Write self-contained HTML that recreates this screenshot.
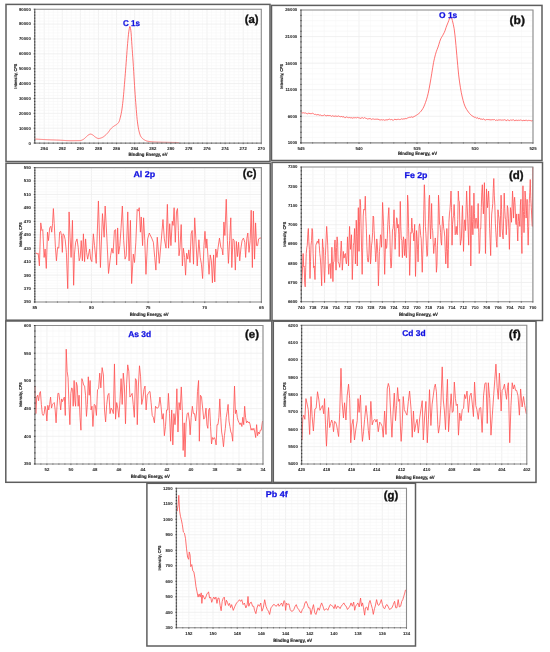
<!DOCTYPE html>
<html><head><meta charset="utf-8"><style>
html,body{margin:0;padding:0;background:#fff;}
body{width:550px;height:652px;overflow:hidden;}
svg{display:block;font-family:"Liberation Sans", sans-serif;will-change:transform;-webkit-font-smoothing:antialiased;text-rendering:geometricPrecision;filter:blur(0.3px);}
</style></head><body>
<svg width="550" height="652" viewBox="0 0 550 652">
<rect width="550" height="652" fill="#fff"/>
<line x1="35.15" y1="9.2" x2="35.15" y2="143.1" stroke="#f6f6f6" stroke-width="0.6"/>
<line x1="39.68" y1="9.2" x2="39.68" y2="143.1" stroke="#f6f6f6" stroke-width="0.6"/>
<line x1="44.2" y1="9.2" x2="44.2" y2="143.1" stroke="#eeeeee" stroke-width="0.8"/>
<line x1="48.72" y1="9.2" x2="48.72" y2="143.1" stroke="#f6f6f6" stroke-width="0.6"/>
<line x1="53.24" y1="9.2" x2="53.24" y2="143.1" stroke="#f6f6f6" stroke-width="0.6"/>
<line x1="57.77" y1="9.2" x2="57.77" y2="143.1" stroke="#f6f6f6" stroke-width="0.6"/>
<line x1="62.29" y1="9.2" x2="62.29" y2="143.1" stroke="#eeeeee" stroke-width="0.8"/>
<line x1="66.81" y1="9.2" x2="66.81" y2="143.1" stroke="#f6f6f6" stroke-width="0.6"/>
<line x1="71.34" y1="9.2" x2="71.34" y2="143.1" stroke="#f6f6f6" stroke-width="0.6"/>
<line x1="75.86" y1="9.2" x2="75.86" y2="143.1" stroke="#f6f6f6" stroke-width="0.6"/>
<line x1="80.38" y1="9.2" x2="80.38" y2="143.1" stroke="#eeeeee" stroke-width="0.8"/>
<line x1="84.9" y1="9.2" x2="84.9" y2="143.1" stroke="#f6f6f6" stroke-width="0.6"/>
<line x1="89.43" y1="9.2" x2="89.43" y2="143.1" stroke="#f6f6f6" stroke-width="0.6"/>
<line x1="93.95" y1="9.2" x2="93.95" y2="143.1" stroke="#f6f6f6" stroke-width="0.6"/>
<line x1="98.47" y1="9.2" x2="98.47" y2="143.1" stroke="#eeeeee" stroke-width="0.8"/>
<line x1="103" y1="9.2" x2="103" y2="143.1" stroke="#f6f6f6" stroke-width="0.6"/>
<line x1="107.52" y1="9.2" x2="107.52" y2="143.1" stroke="#f6f6f6" stroke-width="0.6"/>
<line x1="112.04" y1="9.2" x2="112.04" y2="143.1" stroke="#f6f6f6" stroke-width="0.6"/>
<line x1="116.57" y1="9.2" x2="116.57" y2="143.1" stroke="#eeeeee" stroke-width="0.8"/>
<line x1="121.09" y1="9.2" x2="121.09" y2="143.1" stroke="#f6f6f6" stroke-width="0.6"/>
<line x1="125.61" y1="9.2" x2="125.61" y2="143.1" stroke="#f6f6f6" stroke-width="0.6"/>
<line x1="130.13" y1="9.2" x2="130.13" y2="143.1" stroke="#f6f6f6" stroke-width="0.6"/>
<line x1="134.66" y1="9.2" x2="134.66" y2="143.1" stroke="#eeeeee" stroke-width="0.8"/>
<line x1="139.18" y1="9.2" x2="139.18" y2="143.1" stroke="#f6f6f6" stroke-width="0.6"/>
<line x1="143.7" y1="9.2" x2="143.7" y2="143.1" stroke="#f6f6f6" stroke-width="0.6"/>
<line x1="148.23" y1="9.2" x2="148.23" y2="143.1" stroke="#f6f6f6" stroke-width="0.6"/>
<line x1="152.75" y1="9.2" x2="152.75" y2="143.1" stroke="#eeeeee" stroke-width="0.8"/>
<line x1="157.27" y1="9.2" x2="157.27" y2="143.1" stroke="#f6f6f6" stroke-width="0.6"/>
<line x1="161.8" y1="9.2" x2="161.8" y2="143.1" stroke="#f6f6f6" stroke-width="0.6"/>
<line x1="166.32" y1="9.2" x2="166.32" y2="143.1" stroke="#f6f6f6" stroke-width="0.6"/>
<line x1="170.84" y1="9.2" x2="170.84" y2="143.1" stroke="#eeeeee" stroke-width="0.8"/>
<line x1="175.36" y1="9.2" x2="175.36" y2="143.1" stroke="#f6f6f6" stroke-width="0.6"/>
<line x1="179.89" y1="9.2" x2="179.89" y2="143.1" stroke="#f6f6f6" stroke-width="0.6"/>
<line x1="184.41" y1="9.2" x2="184.41" y2="143.1" stroke="#f6f6f6" stroke-width="0.6"/>
<line x1="188.93" y1="9.2" x2="188.93" y2="143.1" stroke="#eeeeee" stroke-width="0.8"/>
<line x1="193.46" y1="9.2" x2="193.46" y2="143.1" stroke="#f6f6f6" stroke-width="0.6"/>
<line x1="197.98" y1="9.2" x2="197.98" y2="143.1" stroke="#f6f6f6" stroke-width="0.6"/>
<line x1="202.5" y1="9.2" x2="202.5" y2="143.1" stroke="#f6f6f6" stroke-width="0.6"/>
<line x1="207.02" y1="9.2" x2="207.02" y2="143.1" stroke="#eeeeee" stroke-width="0.8"/>
<line x1="211.55" y1="9.2" x2="211.55" y2="143.1" stroke="#f6f6f6" stroke-width="0.6"/>
<line x1="216.07" y1="9.2" x2="216.07" y2="143.1" stroke="#f6f6f6" stroke-width="0.6"/>
<line x1="220.59" y1="9.2" x2="220.59" y2="143.1" stroke="#f6f6f6" stroke-width="0.6"/>
<line x1="225.12" y1="9.2" x2="225.12" y2="143.1" stroke="#eeeeee" stroke-width="0.8"/>
<line x1="229.64" y1="9.2" x2="229.64" y2="143.1" stroke="#f6f6f6" stroke-width="0.6"/>
<line x1="234.16" y1="9.2" x2="234.16" y2="143.1" stroke="#f6f6f6" stroke-width="0.6"/>
<line x1="238.69" y1="9.2" x2="238.69" y2="143.1" stroke="#f6f6f6" stroke-width="0.6"/>
<line x1="243.21" y1="9.2" x2="243.21" y2="143.1" stroke="#eeeeee" stroke-width="0.8"/>
<line x1="247.73" y1="9.2" x2="247.73" y2="143.1" stroke="#f6f6f6" stroke-width="0.6"/>
<line x1="252.25" y1="9.2" x2="252.25" y2="143.1" stroke="#f6f6f6" stroke-width="0.6"/>
<line x1="256.78" y1="9.2" x2="256.78" y2="143.1" stroke="#f6f6f6" stroke-width="0.6"/>
<line x1="261.3" y1="9.2" x2="261.3" y2="143.1" stroke="#eeeeee" stroke-width="0.8"/>
<line x1="34.7" y1="143.1" x2="261.3" y2="143.1" stroke="#eeeeee" stroke-width="0.8"/>
<line x1="34.7" y1="140.12" x2="261.3" y2="140.12" stroke="#f6f6f6" stroke-width="0.6"/>
<line x1="34.7" y1="137.15" x2="261.3" y2="137.15" stroke="#f6f6f6" stroke-width="0.6"/>
<line x1="34.7" y1="134.17" x2="261.3" y2="134.17" stroke="#f6f6f6" stroke-width="0.6"/>
<line x1="34.7" y1="131.2" x2="261.3" y2="131.2" stroke="#f6f6f6" stroke-width="0.6"/>
<line x1="34.7" y1="128.22" x2="261.3" y2="128.22" stroke="#eeeeee" stroke-width="0.8"/>
<line x1="34.7" y1="125.25" x2="261.3" y2="125.25" stroke="#f6f6f6" stroke-width="0.6"/>
<line x1="34.7" y1="122.27" x2="261.3" y2="122.27" stroke="#f6f6f6" stroke-width="0.6"/>
<line x1="34.7" y1="119.3" x2="261.3" y2="119.3" stroke="#f6f6f6" stroke-width="0.6"/>
<line x1="34.7" y1="116.32" x2="261.3" y2="116.32" stroke="#f6f6f6" stroke-width="0.6"/>
<line x1="34.7" y1="113.34" x2="261.3" y2="113.34" stroke="#eeeeee" stroke-width="0.8"/>
<line x1="34.7" y1="110.37" x2="261.3" y2="110.37" stroke="#f6f6f6" stroke-width="0.6"/>
<line x1="34.7" y1="107.39" x2="261.3" y2="107.39" stroke="#f6f6f6" stroke-width="0.6"/>
<line x1="34.7" y1="104.42" x2="261.3" y2="104.42" stroke="#f6f6f6" stroke-width="0.6"/>
<line x1="34.7" y1="101.44" x2="261.3" y2="101.44" stroke="#f6f6f6" stroke-width="0.6"/>
<line x1="34.7" y1="98.47" x2="261.3" y2="98.47" stroke="#eeeeee" stroke-width="0.8"/>
<line x1="34.7" y1="95.49" x2="261.3" y2="95.49" stroke="#f6f6f6" stroke-width="0.6"/>
<line x1="34.7" y1="92.52" x2="261.3" y2="92.52" stroke="#f6f6f6" stroke-width="0.6"/>
<line x1="34.7" y1="89.54" x2="261.3" y2="89.54" stroke="#f6f6f6" stroke-width="0.6"/>
<line x1="34.7" y1="86.56" x2="261.3" y2="86.56" stroke="#f6f6f6" stroke-width="0.6"/>
<line x1="34.7" y1="83.59" x2="261.3" y2="83.59" stroke="#eeeeee" stroke-width="0.8"/>
<line x1="34.7" y1="80.61" x2="261.3" y2="80.61" stroke="#f6f6f6" stroke-width="0.6"/>
<line x1="34.7" y1="77.64" x2="261.3" y2="77.64" stroke="#f6f6f6" stroke-width="0.6"/>
<line x1="34.7" y1="74.66" x2="261.3" y2="74.66" stroke="#f6f6f6" stroke-width="0.6"/>
<line x1="34.7" y1="71.69" x2="261.3" y2="71.69" stroke="#f6f6f6" stroke-width="0.6"/>
<line x1="34.7" y1="68.71" x2="261.3" y2="68.71" stroke="#eeeeee" stroke-width="0.8"/>
<line x1="34.7" y1="65.74" x2="261.3" y2="65.74" stroke="#f6f6f6" stroke-width="0.6"/>
<line x1="34.7" y1="62.76" x2="261.3" y2="62.76" stroke="#f6f6f6" stroke-width="0.6"/>
<line x1="34.7" y1="59.78" x2="261.3" y2="59.78" stroke="#f6f6f6" stroke-width="0.6"/>
<line x1="34.7" y1="56.81" x2="261.3" y2="56.81" stroke="#f6f6f6" stroke-width="0.6"/>
<line x1="34.7" y1="53.83" x2="261.3" y2="53.83" stroke="#eeeeee" stroke-width="0.8"/>
<line x1="34.7" y1="50.86" x2="261.3" y2="50.86" stroke="#f6f6f6" stroke-width="0.6"/>
<line x1="34.7" y1="47.88" x2="261.3" y2="47.88" stroke="#f6f6f6" stroke-width="0.6"/>
<line x1="34.7" y1="44.91" x2="261.3" y2="44.91" stroke="#f6f6f6" stroke-width="0.6"/>
<line x1="34.7" y1="41.93" x2="261.3" y2="41.93" stroke="#f6f6f6" stroke-width="0.6"/>
<line x1="34.7" y1="38.96" x2="261.3" y2="38.96" stroke="#eeeeee" stroke-width="0.8"/>
<line x1="34.7" y1="35.98" x2="261.3" y2="35.98" stroke="#f6f6f6" stroke-width="0.6"/>
<line x1="34.7" y1="33" x2="261.3" y2="33" stroke="#f6f6f6" stroke-width="0.6"/>
<line x1="34.7" y1="30.03" x2="261.3" y2="30.03" stroke="#f6f6f6" stroke-width="0.6"/>
<line x1="34.7" y1="27.05" x2="261.3" y2="27.05" stroke="#f6f6f6" stroke-width="0.6"/>
<line x1="34.7" y1="24.08" x2="261.3" y2="24.08" stroke="#eeeeee" stroke-width="0.8"/>
<line x1="34.7" y1="21.1" x2="261.3" y2="21.1" stroke="#f6f6f6" stroke-width="0.6"/>
<line x1="34.7" y1="18.13" x2="261.3" y2="18.13" stroke="#f6f6f6" stroke-width="0.6"/>
<line x1="34.7" y1="15.15" x2="261.3" y2="15.15" stroke="#f6f6f6" stroke-width="0.6"/>
<line x1="34.7" y1="12.18" x2="261.3" y2="12.18" stroke="#f6f6f6" stroke-width="0.6"/>
<line x1="34.7" y1="9.2" x2="261.3" y2="9.2" stroke="#eeeeee" stroke-width="0.8"/>
<path d="M34.5,139 L34.79,139.02 L35.08,139.04 L35.37,139.06 L35.66,139.07 L35.95,139.09 L36.24,139.11 L36.52,139.13 L36.81,139.15 L37.1,139.16 L37.39,139.18 L37.68,139.2 L37.97,139.22 L38.26,139.23 L38.55,139.25 L38.84,139.27 L39.13,139.29 L39.42,139.3 L39.71,139.32 L39.99,139.34 L40.28,139.35 L40.57,139.37 L40.86,139.39 L41.15,139.4 L41.44,139.42 L41.73,139.43 L42.02,139.45 L42.31,139.46 L42.6,139.48 L42.89,139.49 L43.18,139.51 L43.46,139.52 L43.75,139.54 L44.04,139.55 L44.33,139.57 L44.62,139.58 L44.91,139.6 L45.2,139.61 L45.49,139.62 L45.78,139.64 L46.07,139.65 L46.36,139.66 L46.65,139.67 L46.93,139.69 L47.22,139.7 L47.51,139.71 L47.8,139.72 L48.09,139.74 L48.38,139.75 L48.67,139.76 L48.96,139.77 L49.25,139.78 L49.54,139.79 L49.83,139.8 L50.12,139.82 L50.4,139.83 L50.69,139.84 L50.98,139.85 L51.27,139.86 L51.56,139.87 L51.85,139.88 L52.14,139.89 L52.43,139.9 L52.72,139.91 L53.01,139.92 L53.3,139.93 L53.59,139.95 L53.87,139.96 L54.16,139.97 L54.45,139.98 L54.74,139.99 L55.03,140 L55.32,140.01 L55.61,140.02 L55.9,140.03 L56.19,140.04 L56.48,140.05 L56.77,140.07 L57.06,140.08 L57.35,140.09 L57.63,140.1 L57.92,140.11 L58.21,140.12 L58.5,140.14 L58.79,140.15 L59.08,140.16 L59.37,140.17 L59.66,140.18 L59.95,140.2 L60.24,140.21 L60.53,140.23 L60.82,140.24 L61.1,140.26 L61.39,140.27 L61.68,140.29 L61.97,140.31 L62.26,140.33 L62.55,140.34 L62.84,140.36 L63.13,140.38 L63.42,140.4 L63.71,140.42 L64,140.44 L64.29,140.46 L64.57,140.48 L64.86,140.5 L65.15,140.52 L65.44,140.53 L65.73,140.55 L66.02,140.57 L66.31,140.58 L66.6,140.6 L66.89,140.61 L67.18,140.63 L67.47,140.64 L67.76,140.65 L68.04,140.66 L68.33,140.67 L68.62,140.68 L68.91,140.69 L69.2,140.69 L69.49,140.7 L69.78,140.7 L70.07,140.7 L70.36,140.7 L70.65,140.7 L70.94,140.7 L71.23,140.7 L71.51,140.7 L71.8,140.7 L72.09,140.7 L72.38,140.7 L72.67,140.69 L72.96,140.69 L73.25,140.69 L73.54,140.69 L73.83,140.69 L74.12,140.69 L74.41,140.68 L74.7,140.68 L74.98,140.68 L75.27,140.68 L75.56,140.67 L75.85,140.67 L76.14,140.67 L76.43,140.66 L76.72,140.66 L77.01,140.66 L77.3,140.65 L77.59,140.65 L77.88,140.64 L78.17,140.64 L78.46,140.63 L78.74,140.63 L79.03,140.62 L79.32,140.62 L79.61,140.61 L79.9,140.6 L80.19,140.59 L80.48,140.55 L80.77,140.5 L81.06,140.42 L81.35,140.33 L81.64,140.22 L81.93,140.1 L82.21,139.97 L82.5,139.84 L82.79,139.7 L83.08,139.56 L83.37,139.39 L83.66,139.2 L83.95,138.97 L84.24,138.73 L84.53,138.47 L84.82,138.2 L85.11,137.92 L85.4,137.65 L85.68,137.38 L85.97,137.12 L86.26,136.87 L86.55,136.59 L86.84,136.3 L87.13,136.02 L87.42,135.74 L87.71,135.48 L88,135.24 L88.29,135.03 L88.58,134.86 L88.87,134.7 L89.15,134.54 L89.44,134.39 L89.73,134.26 L90.02,134.17 L90.31,134.11 L90.6,134.1 L90.89,134.14 L91.18,134.21 L91.47,134.32 L91.76,134.44 L92.05,134.58 L92.34,134.72 L92.62,134.86 L92.91,135.04 L93.2,135.26 L93.49,135.5 L93.78,135.76 L94.07,136.03 L94.36,136.3 L94.65,136.57 L94.94,136.81 L95.23,137.03 L95.52,137.21 L95.81,137.38 L96.09,137.55 L96.38,137.72 L96.67,137.89 L96.96,138.04 L97.25,138.18 L97.54,138.3 L97.83,138.4 L98.12,138.47 L98.41,138.5 L98.7,138.5 L98.99,138.47 L99.28,138.44 L99.57,138.39 L99.85,138.32 L100.14,138.24 L100.43,138.16 L100.72,138.07 L101.01,137.97 L101.3,137.86 L101.59,137.75 L101.88,137.65 L102.17,137.53 L102.46,137.4 L102.75,137.24 L103.04,137.07 L103.32,136.88 L103.61,136.68 L103.9,136.46 L104.19,136.24 L104.48,136.01 L104.77,135.78 L105.06,135.55 L105.35,135.31 L105.64,135.06 L105.93,134.79 L106.22,134.51 L106.51,134.22 L106.79,133.92 L107.08,133.62 L107.37,133.3 L107.66,132.98 L107.95,132.66 L108.24,132.31 L108.53,131.94 L108.82,131.54 L109.11,131.13 L109.4,130.71 L109.69,130.29 L109.98,129.87 L110.26,129.48 L110.55,129.11 L110.84,128.77 L111.13,128.47 L111.42,128.18 L111.71,127.91 L112,127.66 L112.29,127.41 L112.58,127.17 L112.87,126.94 L113.16,126.72 L113.45,126.5 L113.73,126.29 L114.02,126.08 L114.31,125.89 L114.6,125.71 L114.89,125.54 L115.18,125.37 L115.47,125.21 L115.76,125.05 L116.05,124.88 L116.34,124.7 L116.63,124.49 L116.92,124.27 L117.21,124.02 L117.49,123.76 L117.78,123.48 L118.07,123.16 L118.36,122.8 L118.65,122.38 L118.94,121.91 L119.23,121.29 L119.52,120.43 L119.81,119.4 L120.1,118.29 L120.39,117.17 L120.68,116 L120.96,114.74 L121.25,113.36 L121.54,111.83 L121.83,110.07 L122.12,108.06 L122.41,105.82 L122.7,103.39 L122.99,100.8 L123.28,97.95 L123.57,94.77 L123.86,91.36 L124.15,87.86 L124.43,84.39 L124.72,80.92 L125.01,77.38 L125.3,73.78 L125.59,70.13 L125.88,66.44 L126.17,62.67 L126.46,58.69 L126.75,54.65 L127.04,50.68 L127.33,46.96 L127.62,43.58 L127.9,40.28 L128.19,37.11 L128.48,34.24 L128.77,31.86 L129.06,29.98 L129.35,28.2 L129.64,26.86 L129.93,26.41 L130.22,27.02 L130.51,28.43 L130.8,30.29 L131.09,32.71 L131.37,36.66 L131.66,41.3 L131.95,45.65 L132.24,49.68 L132.53,53.71 L132.82,57.8 L133.11,62.02 L133.4,66.45 L133.69,71.23 L133.98,76.19 L134.27,81.07 L134.56,85.65 L134.84,90.02 L135.13,94.27 L135.42,98.36 L135.71,102.28 L136,105.99 L136.29,109.68 L136.58,113.25 L136.87,116.57 L137.16,119.47 L137.45,121.88 L137.74,124.05 L138.03,126.04 L138.32,127.81 L138.6,129.37 L138.89,130.67 L139.18,131.81 L139.47,132.87 L139.76,133.85 L140.05,134.72 L140.34,135.48 L140.63,136.12 L140.92,136.63 L141.21,137.05 L141.5,137.44 L141.79,137.8 L142.07,138.12 L142.36,138.42 L142.65,138.68 L142.94,138.93 L143.23,139.15 L143.52,139.36 L143.81,139.54 L144.1,139.72 L144.39,139.89 L144.68,140.05 L144.97,140.21 L145.26,140.36 L145.54,140.5 L145.83,140.64 L146.12,140.77 L146.41,140.88 L146.7,140.99 L146.99,141.08 L147.28,141.16 L147.57,141.23 L147.86,141.29 L148.15,141.34 L148.44,141.39 L148.73,141.43 L149.01,141.47 L149.3,141.51 L149.59,141.55 L149.88,141.59 L150.17,141.62 L150.46,141.66 L150.75,141.69 L151.04,141.72 L151.33,141.75 L151.62,141.77 L151.91,141.8 L152.2,141.82 L152.48,141.85 L152.77,141.87 L153.06,141.89 L153.35,141.91 L153.64,141.93 L153.93,141.94 L154.22,141.96 L154.51,141.98 L154.8,141.99 L155.09,142 L155.38,142.02 L155.67,142.03 L155.95,142.04 L156.24,142.06 L156.53,142.07 L156.82,142.08 L157.11,142.09 L157.4,142.1 L157.69,142.11 L157.98,142.12 L158.27,142.13 L158.56,142.14 L158.85,142.15 L159.14,142.16 L159.43,142.17 L159.71,142.18 L160,142.18 L160.29,142.19 L160.58,142.2 L160.87,142.21 L161.16,142.22 L161.45,142.22 L161.74,142.23 L162.03,142.24 L162.32,142.24 L162.61,142.25 L162.9,142.26 L163.18,142.26 L163.47,142.27 L163.76,142.27 L164.05,142.28 L164.34,142.29 L164.63,142.29 L164.92,142.3 L165.21,142.3 L165.5,142.31 L165.79,142.32 L166.08,142.32 L166.37,142.33 L166.65,142.33 L166.94,142.34 L167.23,142.34 L167.52,142.35 L167.81,142.35 L168.1,142.36 L168.39,142.37 L168.68,142.37 L168.97,142.38 L169.26,142.38 L169.55,142.39 L169.84,142.39 L170.12,142.4 L170.41,142.4 L170.7,142.41 L170.99,142.41 L171.28,142.42 L171.57,142.42 L171.86,142.42 L172.15,142.43 L172.44,142.43 L172.73,142.44 L173.02,142.44 L173.31,142.45 L173.59,142.45 L173.88,142.45 L174.17,142.46 L174.46,142.46 L174.75,142.46 L175.04,142.47 L175.33,142.47 L175.62,142.47 L175.91,142.48 L176.2,142.48 L176.49,142.48 L176.78,142.49 L177.06,142.49 L177.35,142.49 L177.64,142.49 L177.93,142.49 L178.22,142.5 L178.51,142.5 L178.8,142.5" fill="none" stroke="#ff5252" stroke-width="0.82" stroke-linejoin="round"/>
<path d="M34.7,9.2 H261.3 V143.1" fill="none" stroke="#8c8c8c" stroke-width="1.1"/>
<path d="M34.7,9.2 V143.1" fill="none" stroke="#7a7a7a" stroke-width="1.3"/>
<path d="M34.7,143.1 H261.3" fill="none" stroke="#8a8a8a" stroke-width="1.1"/>
<path d="M35.15,142.6 v1.1 M39.68,142.6 v1.1 M44.2,142.6 v1.6 M48.72,142.6 v1.1 M53.24,142.6 v1.1 M57.77,142.6 v1.1 M62.29,142.6 v1.6 M66.81,142.6 v1.1 M71.34,142.6 v1.1 M75.86,142.6 v1.1 M80.38,142.6 v1.6 M84.9,142.6 v1.1 M89.43,142.6 v1.1 M93.95,142.6 v1.1 M98.47,142.6 v1.6 M103,142.6 v1.1 M107.52,142.6 v1.1 M112.04,142.6 v1.1 M116.57,142.6 v1.6 M121.09,142.6 v1.1 M125.61,142.6 v1.1 M130.13,142.6 v1.1 M134.66,142.6 v1.6 M139.18,142.6 v1.1 M143.7,142.6 v1.1 M148.23,142.6 v1.1 M152.75,142.6 v1.6 M157.27,142.6 v1.1 M161.8,142.6 v1.1 M166.32,142.6 v1.1 M170.84,142.6 v1.6 M175.36,142.6 v1.1 M179.89,142.6 v1.1 M184.41,142.6 v1.1 M188.93,142.6 v1.6 M193.46,142.6 v1.1 M197.98,142.6 v1.1 M202.5,142.6 v1.1 M207.02,142.6 v1.6 M211.55,142.6 v1.1 M216.07,142.6 v1.1 M220.59,142.6 v1.1 M225.12,142.6 v1.6 M229.64,142.6 v1.1 M234.16,142.6 v1.1 M238.69,142.6 v1.1 M243.21,142.6 v1.6 M247.73,142.6 v1.1 M252.25,142.6 v1.1 M256.78,142.6 v1.1 M261.3,142.6 v1.6" stroke="#555" stroke-width="0.8"/>
<path d="M35.3,143.1 h-1.6 M35.3,140.12 h-1.2 M35.3,137.15 h-1.2 M35.3,134.17 h-1.2 M35.3,131.2 h-1.2 M35.3,128.22 h-1.6 M35.3,125.25 h-1.2 M35.3,122.27 h-1.2 M35.3,119.3 h-1.2 M35.3,116.32 h-1.2 M35.3,113.34 h-1.6 M35.3,110.37 h-1.2 M35.3,107.39 h-1.2 M35.3,104.42 h-1.2 M35.3,101.44 h-1.2 M35.3,98.47 h-1.6 M35.3,95.49 h-1.2 M35.3,92.52 h-1.2 M35.3,89.54 h-1.2 M35.3,86.56 h-1.2 M35.3,83.59 h-1.6 M35.3,80.61 h-1.2 M35.3,77.64 h-1.2 M35.3,74.66 h-1.2 M35.3,71.69 h-1.2 M35.3,68.71 h-1.6 M35.3,65.74 h-1.2 M35.3,62.76 h-1.2 M35.3,59.78 h-1.2 M35.3,56.81 h-1.2 M35.3,53.83 h-1.6 M35.3,50.86 h-1.2 M35.3,47.88 h-1.2 M35.3,44.91 h-1.2 M35.3,41.93 h-1.2 M35.3,38.96 h-1.6 M35.3,35.98 h-1.2 M35.3,33 h-1.2 M35.3,30.03 h-1.2 M35.3,27.05 h-1.2 M35.3,24.08 h-1.6 M35.3,21.1 h-1.2 M35.3,18.13 h-1.2 M35.3,15.15 h-1.2 M35.3,12.18 h-1.2 M35.3,9.2 h-1.6" stroke="#333" stroke-width="0.9"/>
<text x="44.2" y="150" font-size="4.3" text-anchor="middle" font-weight="bold" fill="#2a2a2a" stroke="#2a2a2a" stroke-width="0.05">294</text>
<text x="62.29" y="150" font-size="4.3" text-anchor="middle" font-weight="bold" fill="#2a2a2a" stroke="#2a2a2a" stroke-width="0.05">292</text>
<text x="80.38" y="150" font-size="4.3" text-anchor="middle" font-weight="bold" fill="#2a2a2a" stroke="#2a2a2a" stroke-width="0.05">290</text>
<text x="98.47" y="150" font-size="4.3" text-anchor="middle" font-weight="bold" fill="#2a2a2a" stroke="#2a2a2a" stroke-width="0.05">288</text>
<text x="116.57" y="150" font-size="4.3" text-anchor="middle" font-weight="bold" fill="#2a2a2a" stroke="#2a2a2a" stroke-width="0.05">286</text>
<text x="134.66" y="150" font-size="4.3" text-anchor="middle" font-weight="bold" fill="#2a2a2a" stroke="#2a2a2a" stroke-width="0.05">284</text>
<text x="152.75" y="150" font-size="4.3" text-anchor="middle" font-weight="bold" fill="#2a2a2a" stroke="#2a2a2a" stroke-width="0.05">282</text>
<text x="170.84" y="150" font-size="4.3" text-anchor="middle" font-weight="bold" fill="#2a2a2a" stroke="#2a2a2a" stroke-width="0.05">280</text>
<text x="188.93" y="150" font-size="4.3" text-anchor="middle" font-weight="bold" fill="#2a2a2a" stroke="#2a2a2a" stroke-width="0.05">278</text>
<text x="207.02" y="150" font-size="4.3" text-anchor="middle" font-weight="bold" fill="#2a2a2a" stroke="#2a2a2a" stroke-width="0.05">276</text>
<text x="225.12" y="150" font-size="4.3" text-anchor="middle" font-weight="bold" fill="#2a2a2a" stroke="#2a2a2a" stroke-width="0.05">274</text>
<text x="243.21" y="150" font-size="4.3" text-anchor="middle" font-weight="bold" fill="#2a2a2a" stroke="#2a2a2a" stroke-width="0.05">272</text>
<text x="261.3" y="150" font-size="4.3" text-anchor="middle" font-weight="bold" fill="#2a2a2a" stroke="#2a2a2a" stroke-width="0.05">270</text>
<text x="30.9" y="144.5" font-size="4.3" text-anchor="end" font-weight="bold" fill="#2a2a2a" stroke="#2a2a2a" stroke-width="0.05">0</text>
<text x="30.9" y="129.62" font-size="4.3" text-anchor="end" font-weight="bold" fill="#2a2a2a" stroke="#2a2a2a" stroke-width="0.05">10000</text>
<text x="30.9" y="114.74" font-size="4.3" text-anchor="end" font-weight="bold" fill="#2a2a2a" stroke="#2a2a2a" stroke-width="0.05">20000</text>
<text x="30.9" y="99.87" font-size="4.3" text-anchor="end" font-weight="bold" fill="#2a2a2a" stroke="#2a2a2a" stroke-width="0.05">30000</text>
<text x="30.9" y="84.99" font-size="4.3" text-anchor="end" font-weight="bold" fill="#2a2a2a" stroke="#2a2a2a" stroke-width="0.05">40000</text>
<text x="30.9" y="70.11" font-size="4.3" text-anchor="end" font-weight="bold" fill="#2a2a2a" stroke="#2a2a2a" stroke-width="0.05">50000</text>
<text x="30.9" y="55.23" font-size="4.3" text-anchor="end" font-weight="bold" fill="#2a2a2a" stroke="#2a2a2a" stroke-width="0.05">60000</text>
<text x="30.9" y="40.36" font-size="4.3" text-anchor="end" font-weight="bold" fill="#2a2a2a" stroke="#2a2a2a" stroke-width="0.05">70000</text>
<text x="30.9" y="25.48" font-size="4.3" text-anchor="end" font-weight="bold" fill="#2a2a2a" stroke="#2a2a2a" stroke-width="0.05">80000</text>
<text x="30.9" y="10.6" font-size="4.3" text-anchor="end" font-weight="bold" fill="#2a2a2a" stroke="#2a2a2a" stroke-width="0.05">90000</text>
<text x="148" y="156.15" font-size="4.6" text-anchor="middle" font-weight="bold" fill="#222" stroke="#222" stroke-width="0.15" textLength="39" lengthAdjust="spacingAndGlyphs">Binding Energy, eV</text>
<text transform="translate(17.2,76.15) rotate(-90)" font-size="4.2" text-anchor="middle" font-weight="bold" fill="#222" stroke="#222" stroke-width="0.15" textLength="25" lengthAdjust="spacingAndGlyphs">Intensity, CPS</text>
<text x="123" y="26.3" font-size="8.4" font-weight="bold" fill="#1010e0" stroke="#1010e0" stroke-width="0.25" textLength="17" lengthAdjust="spacingAndGlyphs">C 1s</text>
<text x="244.7" y="22.6" font-size="11.4" font-weight="bold" fill="#111" stroke="#111" stroke-width="0.35" textLength="13.9" lengthAdjust="spacingAndGlyphs">(a)</text>
<rect x="6" y="4.4" width="264" height="157.1" fill="none" stroke="#5e5e5e" stroke-width="1.5"/>
<line x1="301" y1="10" x2="301" y2="142.9" stroke="#eeeeee" stroke-width="0.8"/>
<line x1="312.6" y1="10" x2="312.6" y2="142.9" stroke="#f6f6f6" stroke-width="0.6"/>
<line x1="324.2" y1="10" x2="324.2" y2="142.9" stroke="#f6f6f6" stroke-width="0.6"/>
<line x1="335.8" y1="10" x2="335.8" y2="142.9" stroke="#f6f6f6" stroke-width="0.6"/>
<line x1="347.4" y1="10" x2="347.4" y2="142.9" stroke="#f6f6f6" stroke-width="0.6"/>
<line x1="359" y1="10" x2="359" y2="142.9" stroke="#eeeeee" stroke-width="0.8"/>
<line x1="370.6" y1="10" x2="370.6" y2="142.9" stroke="#f6f6f6" stroke-width="0.6"/>
<line x1="382.2" y1="10" x2="382.2" y2="142.9" stroke="#f6f6f6" stroke-width="0.6"/>
<line x1="393.8" y1="10" x2="393.8" y2="142.9" stroke="#f6f6f6" stroke-width="0.6"/>
<line x1="405.4" y1="10" x2="405.4" y2="142.9" stroke="#f6f6f6" stroke-width="0.6"/>
<line x1="417" y1="10" x2="417" y2="142.9" stroke="#eeeeee" stroke-width="0.8"/>
<line x1="428.6" y1="10" x2="428.6" y2="142.9" stroke="#f6f6f6" stroke-width="0.6"/>
<line x1="440.2" y1="10" x2="440.2" y2="142.9" stroke="#f6f6f6" stroke-width="0.6"/>
<line x1="451.8" y1="10" x2="451.8" y2="142.9" stroke="#f6f6f6" stroke-width="0.6"/>
<line x1="463.4" y1="10" x2="463.4" y2="142.9" stroke="#f6f6f6" stroke-width="0.6"/>
<line x1="475" y1="10" x2="475" y2="142.9" stroke="#eeeeee" stroke-width="0.8"/>
<line x1="486.6" y1="10" x2="486.6" y2="142.9" stroke="#f6f6f6" stroke-width="0.6"/>
<line x1="498.2" y1="10" x2="498.2" y2="142.9" stroke="#f6f6f6" stroke-width="0.6"/>
<line x1="509.8" y1="10" x2="509.8" y2="142.9" stroke="#f6f6f6" stroke-width="0.6"/>
<line x1="521.4" y1="10" x2="521.4" y2="142.9" stroke="#f6f6f6" stroke-width="0.6"/>
<line x1="533" y1="10" x2="533" y2="142.9" stroke="#eeeeee" stroke-width="0.8"/>
<line x1="301" y1="142.9" x2="533" y2="142.9" stroke="#eeeeee" stroke-width="0.8"/>
<line x1="301" y1="137.58" x2="533" y2="137.58" stroke="#f6f6f6" stroke-width="0.6"/>
<line x1="301" y1="132.27" x2="533" y2="132.27" stroke="#f6f6f6" stroke-width="0.6"/>
<line x1="301" y1="126.95" x2="533" y2="126.95" stroke="#f6f6f6" stroke-width="0.6"/>
<line x1="301" y1="121.64" x2="533" y2="121.64" stroke="#f6f6f6" stroke-width="0.6"/>
<line x1="301" y1="116.32" x2="533" y2="116.32" stroke="#eeeeee" stroke-width="0.8"/>
<line x1="301" y1="111" x2="533" y2="111" stroke="#f6f6f6" stroke-width="0.6"/>
<line x1="301" y1="105.69" x2="533" y2="105.69" stroke="#f6f6f6" stroke-width="0.6"/>
<line x1="301" y1="100.37" x2="533" y2="100.37" stroke="#f6f6f6" stroke-width="0.6"/>
<line x1="301" y1="95.06" x2="533" y2="95.06" stroke="#f6f6f6" stroke-width="0.6"/>
<line x1="301" y1="89.74" x2="533" y2="89.74" stroke="#eeeeee" stroke-width="0.8"/>
<line x1="301" y1="84.42" x2="533" y2="84.42" stroke="#f6f6f6" stroke-width="0.6"/>
<line x1="301" y1="79.11" x2="533" y2="79.11" stroke="#f6f6f6" stroke-width="0.6"/>
<line x1="301" y1="73.79" x2="533" y2="73.79" stroke="#f6f6f6" stroke-width="0.6"/>
<line x1="301" y1="68.48" x2="533" y2="68.48" stroke="#f6f6f6" stroke-width="0.6"/>
<line x1="301" y1="63.16" x2="533" y2="63.16" stroke="#eeeeee" stroke-width="0.8"/>
<line x1="301" y1="57.84" x2="533" y2="57.84" stroke="#f6f6f6" stroke-width="0.6"/>
<line x1="301" y1="52.53" x2="533" y2="52.53" stroke="#f6f6f6" stroke-width="0.6"/>
<line x1="301" y1="47.21" x2="533" y2="47.21" stroke="#f6f6f6" stroke-width="0.6"/>
<line x1="301" y1="41.9" x2="533" y2="41.9" stroke="#f6f6f6" stroke-width="0.6"/>
<line x1="301" y1="36.58" x2="533" y2="36.58" stroke="#eeeeee" stroke-width="0.8"/>
<line x1="301" y1="31.26" x2="533" y2="31.26" stroke="#f6f6f6" stroke-width="0.6"/>
<line x1="301" y1="25.95" x2="533" y2="25.95" stroke="#f6f6f6" stroke-width="0.6"/>
<line x1="301" y1="20.63" x2="533" y2="20.63" stroke="#f6f6f6" stroke-width="0.6"/>
<line x1="301" y1="15.32" x2="533" y2="15.32" stroke="#f6f6f6" stroke-width="0.6"/>
<line x1="301" y1="10" x2="533" y2="10" stroke="#eeeeee" stroke-width="0.8"/>
<path d="M301,112.7 L301.9,112.96 L302.79,112.9 L303.69,112.81 L304.58,113.08 L305.48,112.98 L306.37,113.41 L307.27,113.9 L308.17,113.29 L309.06,113.26 L309.96,113.66 L310.85,113.64 L311.75,113.58 L312.64,113.25 L313.54,113.71 L314.44,114.41 L315.33,114.23 L316.23,114.91 L317.12,114.52 L318.02,114.82 L318.92,114.7 L319.81,115.32 L320.71,115.01 L321.6,115.59 L322.5,115.59 L323.39,115.51 L324.29,114.73 L325.19,115.47 L326.08,115.69 L326.98,115.79 L327.87,115.27 L328.77,115.68 L329.66,115.55 L330.56,115.65 L331.46,116.35 L332.35,115.74 L333.25,116.05 L334.14,116.42 L335.04,115.95 L335.93,116.16 L336.83,116.29 L337.73,116.33 L338.62,115.94 L339.52,116.47 L340.41,117 L341.31,116.08 L342.2,117.03 L343.1,116.88 L344,116.73 L344.89,117.78 L345.79,117.46 L346.68,116.88 L347.58,117.43 L348.47,117.69 L349.37,117.49 L350.27,117.85 L351.16,117.63 L352.06,117.93 L352.95,118.23 L353.85,117.52 L354.75,117.85 L355.64,117.65 L356.54,117.88 L357.43,117.44 L358.33,117.69 L359.22,117.85 L360.12,118.27 L361.02,118.4 L361.91,117.59 L362.81,117.84 L363.7,118.42 L364.6,117.58 L365.49,118.2 L366.39,118.43 L367.29,118.99 L368.18,118.89 L369.08,118.63 L369.97,118.7 L370.87,118.82 L371.76,119.52 L372.66,118.9 L373.56,119.01 L374.45,119.31 L375.35,119.22 L376.24,119.27 L377.14,119.02 L378.03,119.47 L378.93,119.39 L379.83,120.02 L380.72,119.9 L381.62,119.72 L382.51,120.01 L383.41,119.7 L384.31,120.22 L385.2,119.88 L386.1,120.1 L386.99,119.45 L387.89,120.02 L388.78,119.29 L389.68,119.14 L390.58,119.71 L391.47,119.47 L392.37,119.79 L393.26,120.47 L394.16,119.34 L395.05,119.36 L395.95,119.59 L396.85,119.64 L397.74,119.35 L398.64,119.29 L399.53,119.57 L400.43,119.46 L401.32,118.86 L402.22,119.14 L403.12,119.11 L404.01,118.64 L404.91,119 L405.8,118.39 L406.7,118.64 L407.59,117.96 L408.49,117.65 L409.39,117.31 L410.28,117.42 L411.18,116.71 L412.07,117.32 L412.97,117.11 L413.86,116.71 L414.76,116.21 L415.66,115.68 L416.55,115.15 L417.45,114.57 L418.34,113.9 L419.24,113.15 L420.14,112.27 L421.03,111.23 L421.93,110.02 L422.82,108.63 L423.72,106.93 L424.61,104.82 L425.51,102.45 L426.41,99.82 L427.3,96.79 L428.2,93.27 L429.09,88.9 L429.99,84.02 L430.88,78.81 L431.78,73.32 L432.68,67.73 L433.57,62.45 L434.47,58.3 L435.36,54.75 L436.26,51.79 L437.15,49.38 L438.05,47.03 L438.95,44.2 L439.84,41.21 L440.74,38.88 L441.63,37.22 L442.53,35.74 L443.42,34.11 L444.32,32.38 L445.22,30.15 L446.11,27.33 L447.01,25.01 L447.9,22.88 L448.8,20.49 L449.69,18.12 L450.59,16.71 L451.49,17.35 L452.38,20.59 L453.28,24.26 L454.17,28.72 L455.07,36.16 L455.97,45.64 L456.86,55.78 L457.76,65.68 L458.65,74.92 L459.55,81.96 L460.44,87.78 L461.34,92.77 L462.24,97.02 L463.13,100.57 L464.03,103.66 L464.92,106.09 L465.82,107.98 L466.71,109.56 L467.61,110.93 L468.51,112.17 L469.4,113.31 L470.3,114.31 L471.19,115.14 L472.09,115.8 L472.98,116.38 L473.88,116.9 L474.78,117.34 L475.67,117.32 L476.57,118.16 L477.46,117.57 L478.36,118.87 L479.25,118.16 L480.15,119.19 L481.05,118.75 L481.94,119.43 L482.84,119.31 L483.73,118.82 L484.63,119.88 L485.53,120.03 L486.42,119.57 L487.32,119.56 L488.21,119.65 L489.11,119.42 L490,120.18 L490.9,119.65 L491.8,119.85 L492.69,119.63 L493.59,119.72 L494.48,119.52 L495.38,120.43 L496.27,119.96 L497.17,120.38 L498.07,120.07 L498.96,119.84 L499.86,119.99 L500.75,119.92 L501.65,120.14 L502.54,120.02 L503.44,120.07 L504.34,119.71 L505.23,119.92 L506.13,120.8 L507.02,120 L507.92,119.88 L508.81,120.38 L509.71,120.77 L510.61,119.78 L511.5,120.23 L512.4,120.09 L513.29,119.71 L514.19,120.59 L515.08,120.34 L515.98,120.38 L516.88,120.1 L517.77,120.54 L518.67,120.2 L519.56,120.35 L520.46,120.02 L521.36,119.99 L522.25,120.89 L523.15,120.25 L524.04,120.54 L524.94,120.43 L525.83,120.3 L526.73,120.28 L527.63,120.69 L528.52,120.37 L529.42,120.43 L530.31,120.49 L531.21,120.9 L532.1,120.73 L533,120.63" fill="none" stroke="#ff5252" stroke-width="0.82" stroke-linejoin="round"/>
<path d="M301,10 H533 V142.9" fill="none" stroke="#8c8c8c" stroke-width="1.1"/>
<path d="M301,10 V142.9" fill="none" stroke="#7a7a7a" stroke-width="1.3"/>
<path d="M301,142.9 H533" fill="none" stroke="#8a8a8a" stroke-width="1.1"/>
<path d="M301,142.4 v1.6 M312.6,142.4 v1.1 M324.2,142.4 v1.1 M335.8,142.4 v1.1 M347.4,142.4 v1.1 M359,142.4 v1.6 M370.6,142.4 v1.1 M382.2,142.4 v1.1 M393.8,142.4 v1.1 M405.4,142.4 v1.1 M417,142.4 v1.6 M428.6,142.4 v1.1 M440.2,142.4 v1.1 M451.8,142.4 v1.1 M463.4,142.4 v1.1 M475,142.4 v1.6 M486.6,142.4 v1.1 M498.2,142.4 v1.1 M509.8,142.4 v1.1 M521.4,142.4 v1.1 M533,142.4 v1.6" stroke="#555" stroke-width="0.8"/>
<path d="M301.6,142.9 h-1.6 M301.6,137.58 h-1.2 M301.6,132.27 h-1.2 M301.6,126.95 h-1.2 M301.6,121.64 h-1.2 M301.6,116.32 h-1.6 M301.6,111 h-1.2 M301.6,105.69 h-1.2 M301.6,100.37 h-1.2 M301.6,95.06 h-1.2 M301.6,89.74 h-1.6 M301.6,84.42 h-1.2 M301.6,79.11 h-1.2 M301.6,73.79 h-1.2 M301.6,68.48 h-1.2 M301.6,63.16 h-1.6 M301.6,57.84 h-1.2 M301.6,52.53 h-1.2 M301.6,47.21 h-1.2 M301.6,41.9 h-1.2 M301.6,36.58 h-1.6 M301.6,31.26 h-1.2 M301.6,25.95 h-1.2 M301.6,20.63 h-1.2 M301.6,15.32 h-1.2 M301.6,10 h-1.6" stroke="#333" stroke-width="0.9"/>
<text x="301" y="149.8" font-size="4.3" text-anchor="middle" font-weight="bold" fill="#2a2a2a" stroke="#2a2a2a" stroke-width="0.05">545</text>
<text x="359" y="149.8" font-size="4.3" text-anchor="middle" font-weight="bold" fill="#2a2a2a" stroke="#2a2a2a" stroke-width="0.05">540</text>
<text x="417" y="149.8" font-size="4.3" text-anchor="middle" font-weight="bold" fill="#2a2a2a" stroke="#2a2a2a" stroke-width="0.05">535</text>
<text x="475" y="149.8" font-size="4.3" text-anchor="middle" font-weight="bold" fill="#2a2a2a" stroke="#2a2a2a" stroke-width="0.05">530</text>
<text x="533" y="149.8" font-size="4.3" text-anchor="middle" font-weight="bold" fill="#2a2a2a" stroke="#2a2a2a" stroke-width="0.05">525</text>
<text x="297.2" y="144.3" font-size="4.3" text-anchor="end" font-weight="bold" fill="#2a2a2a" stroke="#2a2a2a" stroke-width="0.05">1000</text>
<text x="297.2" y="117.72" font-size="4.3" text-anchor="end" font-weight="bold" fill="#2a2a2a" stroke="#2a2a2a" stroke-width="0.05">6000</text>
<text x="297.2" y="91.14" font-size="4.3" text-anchor="end" font-weight="bold" fill="#2a2a2a" stroke="#2a2a2a" stroke-width="0.05">11000</text>
<text x="297.2" y="64.56" font-size="4.3" text-anchor="end" font-weight="bold" fill="#2a2a2a" stroke="#2a2a2a" stroke-width="0.05">16000</text>
<text x="297.2" y="37.98" font-size="4.3" text-anchor="end" font-weight="bold" fill="#2a2a2a" stroke="#2a2a2a" stroke-width="0.05">21000</text>
<text x="297.2" y="11.4" font-size="4.3" text-anchor="end" font-weight="bold" fill="#2a2a2a" stroke="#2a2a2a" stroke-width="0.05">26000</text>
<text x="417.5" y="155.35" font-size="4.6" text-anchor="middle" font-weight="bold" fill="#222" stroke="#222" stroke-width="0.15" textLength="39" lengthAdjust="spacingAndGlyphs">Binding Energy, eV</text>
<text transform="translate(283.3,76.45) rotate(-90)" font-size="4.2" text-anchor="middle" font-weight="bold" fill="#222" stroke="#222" stroke-width="0.15" textLength="25" lengthAdjust="spacingAndGlyphs">Intensity, CPS</text>
<text x="439" y="18" font-size="8.4" font-weight="bold" fill="#1010e0" stroke="#1010e0" stroke-width="0.25" textLength="18.3" lengthAdjust="spacingAndGlyphs">O 1s</text>
<text x="509.6" y="24.1" font-size="11.4" font-weight="bold" fill="#111" stroke="#111" stroke-width="0.35" textLength="15.4" lengthAdjust="spacingAndGlyphs">(b)</text>
<rect x="271.5" y="5.4" width="270.5" height="155.1" fill="none" stroke="#5e5e5e" stroke-width="1.5"/>
<line x1="34.8" y1="167.6" x2="34.8" y2="302" stroke="#eeeeee" stroke-width="0.8"/>
<line x1="46.13" y1="167.6" x2="46.13" y2="302" stroke="#f6f6f6" stroke-width="0.6"/>
<line x1="57.46" y1="167.6" x2="57.46" y2="302" stroke="#f6f6f6" stroke-width="0.6"/>
<line x1="68.79" y1="167.6" x2="68.79" y2="302" stroke="#f6f6f6" stroke-width="0.6"/>
<line x1="80.12" y1="167.6" x2="80.12" y2="302" stroke="#f6f6f6" stroke-width="0.6"/>
<line x1="91.45" y1="167.6" x2="91.45" y2="302" stroke="#eeeeee" stroke-width="0.8"/>
<line x1="102.78" y1="167.6" x2="102.78" y2="302" stroke="#f6f6f6" stroke-width="0.6"/>
<line x1="114.11" y1="167.6" x2="114.11" y2="302" stroke="#f6f6f6" stroke-width="0.6"/>
<line x1="125.44" y1="167.6" x2="125.44" y2="302" stroke="#f6f6f6" stroke-width="0.6"/>
<line x1="136.77" y1="167.6" x2="136.77" y2="302" stroke="#f6f6f6" stroke-width="0.6"/>
<line x1="148.1" y1="167.6" x2="148.1" y2="302" stroke="#eeeeee" stroke-width="0.8"/>
<line x1="159.43" y1="167.6" x2="159.43" y2="302" stroke="#f6f6f6" stroke-width="0.6"/>
<line x1="170.76" y1="167.6" x2="170.76" y2="302" stroke="#f6f6f6" stroke-width="0.6"/>
<line x1="182.09" y1="167.6" x2="182.09" y2="302" stroke="#f6f6f6" stroke-width="0.6"/>
<line x1="193.42" y1="167.6" x2="193.42" y2="302" stroke="#f6f6f6" stroke-width="0.6"/>
<line x1="204.75" y1="167.6" x2="204.75" y2="302" stroke="#eeeeee" stroke-width="0.8"/>
<line x1="216.08" y1="167.6" x2="216.08" y2="302" stroke="#f6f6f6" stroke-width="0.6"/>
<line x1="227.41" y1="167.6" x2="227.41" y2="302" stroke="#f6f6f6" stroke-width="0.6"/>
<line x1="238.74" y1="167.6" x2="238.74" y2="302" stroke="#f6f6f6" stroke-width="0.6"/>
<line x1="250.07" y1="167.6" x2="250.07" y2="302" stroke="#f6f6f6" stroke-width="0.6"/>
<line x1="261.4" y1="167.6" x2="261.4" y2="302" stroke="#eeeeee" stroke-width="0.8"/>
<line x1="34.8" y1="302" x2="261.4" y2="302" stroke="#eeeeee" stroke-width="0.8"/>
<line x1="34.8" y1="299.31" x2="261.4" y2="299.31" stroke="#f6f6f6" stroke-width="0.6"/>
<line x1="34.8" y1="296.62" x2="261.4" y2="296.62" stroke="#f6f6f6" stroke-width="0.6"/>
<line x1="34.8" y1="293.94" x2="261.4" y2="293.94" stroke="#f6f6f6" stroke-width="0.6"/>
<line x1="34.8" y1="291.25" x2="261.4" y2="291.25" stroke="#f6f6f6" stroke-width="0.6"/>
<line x1="34.8" y1="288.56" x2="261.4" y2="288.56" stroke="#eeeeee" stroke-width="0.8"/>
<line x1="34.8" y1="285.87" x2="261.4" y2="285.87" stroke="#f6f6f6" stroke-width="0.6"/>
<line x1="34.8" y1="283.18" x2="261.4" y2="283.18" stroke="#f6f6f6" stroke-width="0.6"/>
<line x1="34.8" y1="280.5" x2="261.4" y2="280.5" stroke="#f6f6f6" stroke-width="0.6"/>
<line x1="34.8" y1="277.81" x2="261.4" y2="277.81" stroke="#f6f6f6" stroke-width="0.6"/>
<line x1="34.8" y1="275.12" x2="261.4" y2="275.12" stroke="#eeeeee" stroke-width="0.8"/>
<line x1="34.8" y1="272.43" x2="261.4" y2="272.43" stroke="#f6f6f6" stroke-width="0.6"/>
<line x1="34.8" y1="269.74" x2="261.4" y2="269.74" stroke="#f6f6f6" stroke-width="0.6"/>
<line x1="34.8" y1="267.06" x2="261.4" y2="267.06" stroke="#f6f6f6" stroke-width="0.6"/>
<line x1="34.8" y1="264.37" x2="261.4" y2="264.37" stroke="#f6f6f6" stroke-width="0.6"/>
<line x1="34.8" y1="261.68" x2="261.4" y2="261.68" stroke="#eeeeee" stroke-width="0.8"/>
<line x1="34.8" y1="258.99" x2="261.4" y2="258.99" stroke="#f6f6f6" stroke-width="0.6"/>
<line x1="34.8" y1="256.3" x2="261.4" y2="256.3" stroke="#f6f6f6" stroke-width="0.6"/>
<line x1="34.8" y1="253.62" x2="261.4" y2="253.62" stroke="#f6f6f6" stroke-width="0.6"/>
<line x1="34.8" y1="250.93" x2="261.4" y2="250.93" stroke="#f6f6f6" stroke-width="0.6"/>
<line x1="34.8" y1="248.24" x2="261.4" y2="248.24" stroke="#eeeeee" stroke-width="0.8"/>
<line x1="34.8" y1="245.55" x2="261.4" y2="245.55" stroke="#f6f6f6" stroke-width="0.6"/>
<line x1="34.8" y1="242.86" x2="261.4" y2="242.86" stroke="#f6f6f6" stroke-width="0.6"/>
<line x1="34.8" y1="240.18" x2="261.4" y2="240.18" stroke="#f6f6f6" stroke-width="0.6"/>
<line x1="34.8" y1="237.49" x2="261.4" y2="237.49" stroke="#f6f6f6" stroke-width="0.6"/>
<line x1="34.8" y1="234.8" x2="261.4" y2="234.8" stroke="#eeeeee" stroke-width="0.8"/>
<line x1="34.8" y1="232.11" x2="261.4" y2="232.11" stroke="#f6f6f6" stroke-width="0.6"/>
<line x1="34.8" y1="229.42" x2="261.4" y2="229.42" stroke="#f6f6f6" stroke-width="0.6"/>
<line x1="34.8" y1="226.74" x2="261.4" y2="226.74" stroke="#f6f6f6" stroke-width="0.6"/>
<line x1="34.8" y1="224.05" x2="261.4" y2="224.05" stroke="#f6f6f6" stroke-width="0.6"/>
<line x1="34.8" y1="221.36" x2="261.4" y2="221.36" stroke="#eeeeee" stroke-width="0.8"/>
<line x1="34.8" y1="218.67" x2="261.4" y2="218.67" stroke="#f6f6f6" stroke-width="0.6"/>
<line x1="34.8" y1="215.98" x2="261.4" y2="215.98" stroke="#f6f6f6" stroke-width="0.6"/>
<line x1="34.8" y1="213.3" x2="261.4" y2="213.3" stroke="#f6f6f6" stroke-width="0.6"/>
<line x1="34.8" y1="210.61" x2="261.4" y2="210.61" stroke="#f6f6f6" stroke-width="0.6"/>
<line x1="34.8" y1="207.92" x2="261.4" y2="207.92" stroke="#eeeeee" stroke-width="0.8"/>
<line x1="34.8" y1="205.23" x2="261.4" y2="205.23" stroke="#f6f6f6" stroke-width="0.6"/>
<line x1="34.8" y1="202.54" x2="261.4" y2="202.54" stroke="#f6f6f6" stroke-width="0.6"/>
<line x1="34.8" y1="199.86" x2="261.4" y2="199.86" stroke="#f6f6f6" stroke-width="0.6"/>
<line x1="34.8" y1="197.17" x2="261.4" y2="197.17" stroke="#f6f6f6" stroke-width="0.6"/>
<line x1="34.8" y1="194.48" x2="261.4" y2="194.48" stroke="#eeeeee" stroke-width="0.8"/>
<line x1="34.8" y1="191.79" x2="261.4" y2="191.79" stroke="#f6f6f6" stroke-width="0.6"/>
<line x1="34.8" y1="189.1" x2="261.4" y2="189.1" stroke="#f6f6f6" stroke-width="0.6"/>
<line x1="34.8" y1="186.42" x2="261.4" y2="186.42" stroke="#f6f6f6" stroke-width="0.6"/>
<line x1="34.8" y1="183.73" x2="261.4" y2="183.73" stroke="#f6f6f6" stroke-width="0.6"/>
<line x1="34.8" y1="181.04" x2="261.4" y2="181.04" stroke="#eeeeee" stroke-width="0.8"/>
<line x1="34.8" y1="178.35" x2="261.4" y2="178.35" stroke="#f6f6f6" stroke-width="0.6"/>
<line x1="34.8" y1="175.66" x2="261.4" y2="175.66" stroke="#f6f6f6" stroke-width="0.6"/>
<line x1="34.8" y1="172.98" x2="261.4" y2="172.98" stroke="#f6f6f6" stroke-width="0.6"/>
<line x1="34.8" y1="170.29" x2="261.4" y2="170.29" stroke="#f6f6f6" stroke-width="0.6"/>
<line x1="34.8" y1="167.6" x2="261.4" y2="167.6" stroke="#eeeeee" stroke-width="0.8"/>
<path d="M35.69,252.39 L37.04,254.08 L38.22,253.24 L39.4,265.89 L40.75,222.88 L41.93,230.47 L42.77,229.63 L44.12,257.45 L45.13,249.02 L46.31,268.41 L47.49,232.16 L48.5,240.59 L49.68,227.94 L50.86,226.26 L51.71,232.16 L52.55,223.73 L53.39,208.55 L54.24,223.73 L55.42,247.34 L56.43,260.83 L57.61,247.34 L58.79,248.18 L59.63,232.16 L60.64,231.32 L61.49,235.53 L62.33,252.39 L63.01,233.84 L64.02,234.69 L65.2,239.75 L66.38,252.39 L67.73,288.65 L69.08,211.92 L70.09,237.22 L71.1,257.45 L72.45,220.35 L73.63,285.28 L74.47,254.08 L75.65,242.28 L77,238.9 L78.18,247.34 L79.19,260.83 L80.21,257.45 L81.22,240.59 L82.4,260.83 L83.41,233.84 L84.59,261.67 L85.6,238.9 L86.61,252.39 L87.63,259.14 L88.64,254.08 L89.65,249.02 L90.66,259.14 L91.84,261.67 L93.35,233.84 L94.53,245.65 L96.22,263.36 L98.41,200.96 L100.43,267.57 L102.46,213.61 L104.14,237.22 L105.15,206.02 L106.84,237.22 L108.53,273.47 L110.55,255.77 L111.9,248.18 L113.08,253.24 L114.43,230.47 L115.61,229.63 L116.62,265.04 L117.63,227.94 L118.64,254.08 L119.82,245.65 L121.01,228.79 L122.35,206.02 L123.7,240.59 L125.05,259.14 L126.23,255.77 L127.75,211.92 L129.1,260.83 L130.45,220.35 L131.63,283.59 L133.32,254.08 L134.5,262.51 L135.84,242.28 L137.19,209.39 L138.37,211.08 L139.22,207.71 L140.4,232.16 L141.24,216.98 L142.59,245.65 L143.6,217.82 L144.78,240.59 L145.96,274.32 L147.65,238.9 L149.34,233 L150,234.69 L151.69,238.06 L153.37,242.28 L154.72,257.45 L155.9,270.1 L157.25,237.22 L159.27,263.36 L160.96,243.96 L162.98,219.51 L164.33,238.9 L166.02,248.18 L167.37,204.33 L168.55,248.18 L169.73,223.73 L170.91,245.65 L172.26,221.2 L173.1,225.41 L174.11,207.71 L175.3,242.28 L176.48,211.92 L177.49,208.55 L178.33,230.47 L179.01,255.77 L180.02,247.34 L181.2,224.57 L182.38,265.89 L183.39,248.18 L184.57,257.45 L185.58,275.16 L186.59,253.24 L187.77,259.14 L188.79,249.87 L189.97,262.51 L191.15,233.84 L192.16,230.47 L193.51,264.2 L194.69,217.82 L195.87,238.9 L197.22,265.89 L198.9,239.75 L200.25,257.45 L201.43,264.2 L202.61,278.53 L203.96,245.65 L204.97,231.32 L205.99,248.18 L206.84,238.9 L208.02,257.45 L209.04,274.32 L210.22,254.92 L211.4,260.83 L212.41,282.75 L213.59,254.92 L214.77,281.91 L215.78,249.02 L216.96,257.45 L218.14,247.34 L219.49,238.06 L220.84,247.34 L222.02,249.02 L222.86,254.92 L223.88,222.04 L224.89,235.53 L226.24,199.27 L227.42,240.59 L228.43,263.36 L229.61,240.59 L230.79,217.82 L231.8,267.57 L232.98,238.9 L234.16,240.59 L235.34,270.1 L236.35,241.43 L237.53,256.61 L238.55,242.28 L239.73,260.83 L240.91,248.18 L242.09,240.59 L243.44,238.06 L244.79,242.28 L245.63,257.45 L246.81,238.9 L247.82,233 L249,252.39 L250.18,240.59 L251.19,210.24 L252.37,267.57 L253.39,211.08 L254.57,259.14 L255.58,222.88 L256.59,245.65 L257.6,245.65 L258.61,238.9 L259.96,238.06 L261.48,238.06" fill="none" stroke="#ff5252" stroke-width="0.82" stroke-linejoin="round"/>
<path d="M34.8,167.6 H261.4 V302" fill="none" stroke="#8c8c8c" stroke-width="1.1"/>
<path d="M34.8,167.6 V302" fill="none" stroke="#7a7a7a" stroke-width="1.3"/>
<path d="M34.8,302 H261.4" fill="none" stroke="#8a8a8a" stroke-width="1.1"/>
<path d="M34.8,301.5 v1.6 M46.13,301.5 v1.1 M57.46,301.5 v1.1 M68.79,301.5 v1.1 M80.12,301.5 v1.1 M91.45,301.5 v1.6 M102.78,301.5 v1.1 M114.11,301.5 v1.1 M125.44,301.5 v1.1 M136.77,301.5 v1.1 M148.1,301.5 v1.6 M159.43,301.5 v1.1 M170.76,301.5 v1.1 M182.09,301.5 v1.1 M193.42,301.5 v1.1 M204.75,301.5 v1.6 M216.08,301.5 v1.1 M227.41,301.5 v1.1 M238.74,301.5 v1.1 M250.07,301.5 v1.1 M261.4,301.5 v1.6" stroke="#555" stroke-width="0.8"/>
<path d="M35.4,302 h-1.6 M35.4,299.31 h-1.2 M35.4,296.62 h-1.2 M35.4,293.94 h-1.2 M35.4,291.25 h-1.2 M35.4,288.56 h-1.6 M35.4,285.87 h-1.2 M35.4,283.18 h-1.2 M35.4,280.5 h-1.2 M35.4,277.81 h-1.2 M35.4,275.12 h-1.6 M35.4,272.43 h-1.2 M35.4,269.74 h-1.2 M35.4,267.06 h-1.2 M35.4,264.37 h-1.2 M35.4,261.68 h-1.6 M35.4,258.99 h-1.2 M35.4,256.3 h-1.2 M35.4,253.62 h-1.2 M35.4,250.93 h-1.2 M35.4,248.24 h-1.6 M35.4,245.55 h-1.2 M35.4,242.86 h-1.2 M35.4,240.18 h-1.2 M35.4,237.49 h-1.2 M35.4,234.8 h-1.6 M35.4,232.11 h-1.2 M35.4,229.42 h-1.2 M35.4,226.74 h-1.2 M35.4,224.05 h-1.2 M35.4,221.36 h-1.6 M35.4,218.67 h-1.2 M35.4,215.98 h-1.2 M35.4,213.3 h-1.2 M35.4,210.61 h-1.2 M35.4,207.92 h-1.6 M35.4,205.23 h-1.2 M35.4,202.54 h-1.2 M35.4,199.86 h-1.2 M35.4,197.17 h-1.2 M35.4,194.48 h-1.6 M35.4,191.79 h-1.2 M35.4,189.1 h-1.2 M35.4,186.42 h-1.2 M35.4,183.73 h-1.2 M35.4,181.04 h-1.6 M35.4,178.35 h-1.2 M35.4,175.66 h-1.2 M35.4,172.98 h-1.2 M35.4,170.29 h-1.2 M35.4,167.6 h-1.6" stroke="#333" stroke-width="0.9"/>
<text x="34.8" y="308.9" font-size="4.3" text-anchor="middle" font-weight="bold" fill="#2a2a2a" stroke="#2a2a2a" stroke-width="0.05">85</text>
<text x="91.45" y="308.9" font-size="4.3" text-anchor="middle" font-weight="bold" fill="#2a2a2a" stroke="#2a2a2a" stroke-width="0.05">80</text>
<text x="148.1" y="308.9" font-size="4.3" text-anchor="middle" font-weight="bold" fill="#2a2a2a" stroke="#2a2a2a" stroke-width="0.05">75</text>
<text x="204.75" y="308.9" font-size="4.3" text-anchor="middle" font-weight="bold" fill="#2a2a2a" stroke="#2a2a2a" stroke-width="0.05">70</text>
<text x="261.4" y="308.9" font-size="4.3" text-anchor="middle" font-weight="bold" fill="#2a2a2a" stroke="#2a2a2a" stroke-width="0.05">65</text>
<text x="31" y="303.4" font-size="4.3" text-anchor="end" font-weight="bold" fill="#2a2a2a" stroke="#2a2a2a" stroke-width="0.05">350</text>
<text x="31" y="289.96" font-size="4.3" text-anchor="end" font-weight="bold" fill="#2a2a2a" stroke="#2a2a2a" stroke-width="0.05">370</text>
<text x="31" y="276.52" font-size="4.3" text-anchor="end" font-weight="bold" fill="#2a2a2a" stroke="#2a2a2a" stroke-width="0.05">390</text>
<text x="31" y="263.08" font-size="4.3" text-anchor="end" font-weight="bold" fill="#2a2a2a" stroke="#2a2a2a" stroke-width="0.05">410</text>
<text x="31" y="249.64" font-size="4.3" text-anchor="end" font-weight="bold" fill="#2a2a2a" stroke="#2a2a2a" stroke-width="0.05">430</text>
<text x="31" y="236.2" font-size="4.3" text-anchor="end" font-weight="bold" fill="#2a2a2a" stroke="#2a2a2a" stroke-width="0.05">450</text>
<text x="31" y="222.76" font-size="4.3" text-anchor="end" font-weight="bold" fill="#2a2a2a" stroke="#2a2a2a" stroke-width="0.05">470</text>
<text x="31" y="209.32" font-size="4.3" text-anchor="end" font-weight="bold" fill="#2a2a2a" stroke="#2a2a2a" stroke-width="0.05">490</text>
<text x="31" y="195.88" font-size="4.3" text-anchor="end" font-weight="bold" fill="#2a2a2a" stroke="#2a2a2a" stroke-width="0.05">510</text>
<text x="31" y="182.44" font-size="4.3" text-anchor="end" font-weight="bold" fill="#2a2a2a" stroke="#2a2a2a" stroke-width="0.05">530</text>
<text x="31" y="169" font-size="4.3" text-anchor="end" font-weight="bold" fill="#2a2a2a" stroke="#2a2a2a" stroke-width="0.05">550</text>
<text x="149.2" y="315.95" font-size="4.6" text-anchor="middle" font-weight="bold" fill="#222" stroke="#222" stroke-width="0.15" textLength="39" lengthAdjust="spacingAndGlyphs">Binding Energy, eV</text>
<text transform="translate(22.1,234.8) rotate(-90)" font-size="4.2" text-anchor="middle" font-weight="bold" fill="#222" stroke="#222" stroke-width="0.15" textLength="25" lengthAdjust="spacingAndGlyphs">Intensity, CPS</text>
<text x="133.4" y="176.6" font-size="8.4" font-weight="bold" fill="#1010e0" stroke="#1010e0" stroke-width="0.25" textLength="21.8" lengthAdjust="spacingAndGlyphs">Al 2p</text>
<text x="242.7" y="177.1" font-size="11.4" font-weight="bold" fill="#111" stroke="#111" stroke-width="0.35" textLength="13.7" lengthAdjust="spacingAndGlyphs">(c)</text>
<rect x="6" y="163.3" width="264.25" height="156.9" fill="none" stroke="#5e5e5e" stroke-width="1.5"/>
<line x1="301.3" y1="167" x2="301.3" y2="301.7" stroke="#eeeeee" stroke-width="0.8"/>
<line x1="312.88" y1="167" x2="312.88" y2="301.7" stroke="#eeeeee" stroke-width="0.8"/>
<line x1="324.46" y1="167" x2="324.46" y2="301.7" stroke="#eeeeee" stroke-width="0.8"/>
<line x1="336.04" y1="167" x2="336.04" y2="301.7" stroke="#eeeeee" stroke-width="0.8"/>
<line x1="347.62" y1="167" x2="347.62" y2="301.7" stroke="#eeeeee" stroke-width="0.8"/>
<line x1="359.2" y1="167" x2="359.2" y2="301.7" stroke="#eeeeee" stroke-width="0.8"/>
<line x1="370.78" y1="167" x2="370.78" y2="301.7" stroke="#eeeeee" stroke-width="0.8"/>
<line x1="382.36" y1="167" x2="382.36" y2="301.7" stroke="#eeeeee" stroke-width="0.8"/>
<line x1="393.94" y1="167" x2="393.94" y2="301.7" stroke="#eeeeee" stroke-width="0.8"/>
<line x1="405.52" y1="167" x2="405.52" y2="301.7" stroke="#eeeeee" stroke-width="0.8"/>
<line x1="417.1" y1="167" x2="417.1" y2="301.7" stroke="#eeeeee" stroke-width="0.8"/>
<line x1="428.68" y1="167" x2="428.68" y2="301.7" stroke="#eeeeee" stroke-width="0.8"/>
<line x1="440.26" y1="167" x2="440.26" y2="301.7" stroke="#eeeeee" stroke-width="0.8"/>
<line x1="451.84" y1="167" x2="451.84" y2="301.7" stroke="#eeeeee" stroke-width="0.8"/>
<line x1="463.42" y1="167" x2="463.42" y2="301.7" stroke="#eeeeee" stroke-width="0.8"/>
<line x1="475" y1="167" x2="475" y2="301.7" stroke="#eeeeee" stroke-width="0.8"/>
<line x1="486.58" y1="167" x2="486.58" y2="301.7" stroke="#eeeeee" stroke-width="0.8"/>
<line x1="498.16" y1="167" x2="498.16" y2="301.7" stroke="#eeeeee" stroke-width="0.8"/>
<line x1="509.74" y1="167" x2="509.74" y2="301.7" stroke="#eeeeee" stroke-width="0.8"/>
<line x1="521.32" y1="167" x2="521.32" y2="301.7" stroke="#eeeeee" stroke-width="0.8"/>
<line x1="532.9" y1="167" x2="532.9" y2="301.7" stroke="#eeeeee" stroke-width="0.8"/>
<line x1="301.3" y1="301.7" x2="532.9" y2="301.7" stroke="#eeeeee" stroke-width="0.8"/>
<line x1="301.3" y1="297.85" x2="532.9" y2="297.85" stroke="#f6f6f6" stroke-width="0.6"/>
<line x1="301.3" y1="294" x2="532.9" y2="294" stroke="#f6f6f6" stroke-width="0.6"/>
<line x1="301.3" y1="290.15" x2="532.9" y2="290.15" stroke="#f6f6f6" stroke-width="0.6"/>
<line x1="301.3" y1="286.31" x2="532.9" y2="286.31" stroke="#f6f6f6" stroke-width="0.6"/>
<line x1="301.3" y1="282.46" x2="532.9" y2="282.46" stroke="#eeeeee" stroke-width="0.8"/>
<line x1="301.3" y1="278.61" x2="532.9" y2="278.61" stroke="#f6f6f6" stroke-width="0.6"/>
<line x1="301.3" y1="274.76" x2="532.9" y2="274.76" stroke="#f6f6f6" stroke-width="0.6"/>
<line x1="301.3" y1="270.91" x2="532.9" y2="270.91" stroke="#f6f6f6" stroke-width="0.6"/>
<line x1="301.3" y1="267.06" x2="532.9" y2="267.06" stroke="#f6f6f6" stroke-width="0.6"/>
<line x1="301.3" y1="263.21" x2="532.9" y2="263.21" stroke="#eeeeee" stroke-width="0.8"/>
<line x1="301.3" y1="259.37" x2="532.9" y2="259.37" stroke="#f6f6f6" stroke-width="0.6"/>
<line x1="301.3" y1="255.52" x2="532.9" y2="255.52" stroke="#f6f6f6" stroke-width="0.6"/>
<line x1="301.3" y1="251.67" x2="532.9" y2="251.67" stroke="#f6f6f6" stroke-width="0.6"/>
<line x1="301.3" y1="247.82" x2="532.9" y2="247.82" stroke="#f6f6f6" stroke-width="0.6"/>
<line x1="301.3" y1="243.97" x2="532.9" y2="243.97" stroke="#eeeeee" stroke-width="0.8"/>
<line x1="301.3" y1="240.12" x2="532.9" y2="240.12" stroke="#f6f6f6" stroke-width="0.6"/>
<line x1="301.3" y1="236.27" x2="532.9" y2="236.27" stroke="#f6f6f6" stroke-width="0.6"/>
<line x1="301.3" y1="232.43" x2="532.9" y2="232.43" stroke="#f6f6f6" stroke-width="0.6"/>
<line x1="301.3" y1="228.58" x2="532.9" y2="228.58" stroke="#f6f6f6" stroke-width="0.6"/>
<line x1="301.3" y1="224.73" x2="532.9" y2="224.73" stroke="#eeeeee" stroke-width="0.8"/>
<line x1="301.3" y1="220.88" x2="532.9" y2="220.88" stroke="#f6f6f6" stroke-width="0.6"/>
<line x1="301.3" y1="217.03" x2="532.9" y2="217.03" stroke="#f6f6f6" stroke-width="0.6"/>
<line x1="301.3" y1="213.18" x2="532.9" y2="213.18" stroke="#f6f6f6" stroke-width="0.6"/>
<line x1="301.3" y1="209.33" x2="532.9" y2="209.33" stroke="#f6f6f6" stroke-width="0.6"/>
<line x1="301.3" y1="205.49" x2="532.9" y2="205.49" stroke="#eeeeee" stroke-width="0.8"/>
<line x1="301.3" y1="201.64" x2="532.9" y2="201.64" stroke="#f6f6f6" stroke-width="0.6"/>
<line x1="301.3" y1="197.79" x2="532.9" y2="197.79" stroke="#f6f6f6" stroke-width="0.6"/>
<line x1="301.3" y1="193.94" x2="532.9" y2="193.94" stroke="#f6f6f6" stroke-width="0.6"/>
<line x1="301.3" y1="190.09" x2="532.9" y2="190.09" stroke="#f6f6f6" stroke-width="0.6"/>
<line x1="301.3" y1="186.24" x2="532.9" y2="186.24" stroke="#eeeeee" stroke-width="0.8"/>
<line x1="301.3" y1="182.39" x2="532.9" y2="182.39" stroke="#f6f6f6" stroke-width="0.6"/>
<line x1="301.3" y1="178.55" x2="532.9" y2="178.55" stroke="#f6f6f6" stroke-width="0.6"/>
<line x1="301.3" y1="174.7" x2="532.9" y2="174.7" stroke="#f6f6f6" stroke-width="0.6"/>
<line x1="301.3" y1="170.85" x2="532.9" y2="170.85" stroke="#f6f6f6" stroke-width="0.6"/>
<line x1="301.3" y1="167" x2="532.9" y2="167" stroke="#eeeeee" stroke-width="0.8"/>
<path d="M301.25,291 L302.08,278.5 L302.6,266.17 L303.12,253.5 L303.65,266.55 L304.17,266 L304.69,282.54 L305.21,286.83 L305.73,267.62 L306.25,253.5 L306.77,247.84 L307.29,245.17 L307.81,234.2 L308.33,228.5 L308.85,241.77 L309.38,249.33 L310,278.5 L310.52,261.55 L311.04,245.17 L311.56,240.57 L312.08,228.5 L312.6,231.76 L313.12,253.5 L313.65,267.58 L314.17,266 L315,279.54 L315.83,245.17 L316.67,243.08 L317.19,241.56 L317.71,241 L318.23,243.36 L318.75,238.92 L319.27,245.53 L319.79,253.5 L320.31,257.85 L320.83,266 L321.67,285.79 L322.5,238.92 L323.02,246.44 L323.54,249.33 L324.06,270.12 L324.58,282.67 L325.42,255.58 L326.04,239.99 L326.67,226.42 L327.19,235.03 L327.71,245.17 L328.23,263.18 L328.75,274.33 L329.27,264.77 L329.79,263.92 L330.31,263.64 L330.83,278.5 L331.35,264.85 L331.88,247.25 L332.4,261.08 L332.92,281.62 L333.44,262.13 L333.96,261.83 L334.48,246.83 L335,239.96 L335.52,252.72 L336.04,270.17 L336.56,247.53 L337.08,236.83 L337.6,241.87 L338.12,261.83 L338.65,263.06 L339.17,263.92 L339.69,267.36 L340.21,261.83 L340.73,250.25 L341.25,241 L341.77,251.87 L342.29,270.17 L342.81,262.72 L343.33,251.42 L343.85,258.13 L344.38,257.67 L344.9,254.08 L345.42,253.5 L345.94,261.43 L346.46,263.92 L346.98,255.59 L347.5,236.83 L348.02,250.38 L348.54,266 L349.06,242.14 L349.58,226.42 L350.42,249.33 L350.94,243.78 L351.46,234.75 L352.29,279.54 L352.81,263.59 L353.33,245.17 L353.96,242.33 L354.58,228.5 L355.42,263.92 L356.25,220.17 L356.77,236.66 L357.29,266 L357.81,233.53 L358.33,207.67 L359.04,251.42 L359.56,221.18 L360.08,199.33 L360.6,205.25 L361.12,228.5 L361.65,252.05 L362.17,274.33 L362.69,247.81 L363.21,216 L363.73,209.18 L364.25,209.75 L364.77,209.91 L365.29,196.21 L365.81,216.46 L366.33,228.5 L366.85,246.22 L367.38,257.67 L367.9,261.76 L368.42,261.83 L368.94,253.07 L369.46,234.75 L369.98,242.67 L370.5,263.92 L371.02,257.61 L371.54,245.17 L372.06,241.93 L372.58,232.67 L373.1,216.02 L373.62,217.04 L374.15,230.76 L374.67,241 L375.19,250.16 L375.71,261.83 L376.23,254.28 L376.75,238.92 L377.27,244.01 L377.79,253.5 L378.42,285.79 L378.94,268.51 L379.46,251.42 L379.98,244.8 L380.5,234.75 L381.02,236.62 L381.54,247.25 L382.06,227.85 L382.58,202.46 L383.1,213.91 L383.62,226.42 L384.15,252.84 L384.67,274.33 L385.19,254.02 L385.71,238.92 L386.23,248.51 L386.75,247.25 L387.27,238.82 L387.79,224.33 L388.31,215.11 L388.83,207.67 L389.35,224.37 L389.88,234.75 L390.4,257.72 L390.92,268.08 L391.44,266.62 L391.96,247.25 L392.48,230.01 L393,228.5 L393.52,223.54 L394.04,209.75 L394.56,231.87 L395.08,249.33 L395.6,237.41 L396.12,226.42 L396.65,217.74 L397.17,219.12 L397.69,228.02 L398.21,224.33 L398.73,234.17 L399.25,256.62 L399.77,231.86 L400.29,201.42 L400.81,226.68 L401.33,238.92 L401.85,240.29 L402.38,257.67 L402.9,245.74 L403.42,236.83 L403.94,239.66 L404.46,255.58 L404.98,248.47 L405.5,238.92 L406.02,255.86 L406.54,257.67 L407.06,236.53 L407.58,195.17 L408.1,202.94 L408.62,228.5 L409.15,249.06 L409.67,275.38 L410.19,257.54 L410.71,232.67 L411.23,233.27 L411.75,218.08 L412.27,227.48 L412.79,232.67 L413.31,233.1 L413.83,241 L414.67,224.33 L415.5,276.42 L416.02,254.99 L416.54,230.58 L417.04,236.83 L417.56,249.25 L418.08,261.83 L418.6,243.11 L419.12,226.42 L419.65,223.79 L420.17,228.5 L420.69,235.64 L421.21,238.92 L421.73,257.12 L422.25,272.25 L422.77,254.08 L423.29,236.83 L423.81,209.68 L424.33,184.75 L424.85,199.16 L425.38,226.42 L425.9,233.36 L426.42,245.17 L426.94,256.41 L427.46,255.58 L427.98,235.88 L428.5,218.08 L429.02,199.43 L429.54,195.17 L430.06,223.71 L430.58,238.92 L431.1,223.86 L431.62,203.5 L432.15,227.58 L432.67,230.58 L433.19,242.35 L433.71,253.5 L434.23,245.98 L434.75,243.08 L435.27,237.93 L435.79,247.25 L436.42,272.25 L436.94,265.33 L437.46,245.17 L437.98,233.01 L438.5,195.17 L439.02,205.65 L439.54,224.33 L440.06,225.26 L440.58,232.67 L441.1,241.9 L441.62,245.17 L442.15,226.43 L442.67,216 L443.19,220.9 L443.71,228.5 L444.23,230.92 L444.75,236.83 L445.27,251.33 L445.79,263.92 L446.31,251.68 L446.83,228.5 L447.35,248.4 L447.88,268.08 L448.4,249.76 L448.92,222.25 L449.44,213.9 L449.96,209.75 L450.48,202.01 L451,191 L451.52,207.39 L452.04,245.17 L452.56,224.38 L453.08,218.08 L453.6,215.29 L454.12,204.54 L454.65,216.7 L455.17,234.75 L455.69,233.48 L456.21,226.42 L456.73,233.3 L457.25,234.75 L457.77,219.49 L458.29,191 L458.81,200.27 L459.33,201.42 L459.85,228.38 L460.38,245.17 L460.9,241.48 L461.42,238.92 L461.94,218.76 L462.46,205.58 L462.98,224.84 L463.5,251.42 L464.02,233.35 L464.54,220.17 L465.06,219.73 L465.58,230.58 L466.1,208.05 L466.62,191 L467.15,204.08 L467.67,218.08 L468.19,232.88 L468.71,245.17 L469.23,213.78 L469.75,185.79 L470.27,216.28 L470.79,266 L471.31,235.43 L471.83,205.58 L472.35,221.29 L472.88,234.75 L473.4,219.34 L473.92,193.08 L474.44,213.68 L474.96,228.5 L475.52,220.07 L476.08,218.08 L476.6,219.67 L477.12,228.5 L477.65,226.05 L478.17,203.5 L478.69,232.28 L479.21,253.5 L479.73,250.16 L480.25,228.5 L480.77,228.73 L481.29,207.67 L481.81,192.12 L482.33,184.75 L482.85,201.26 L483.38,213.92 L483.9,200.58 L484.42,182.67 L484.94,220.88 L485.46,253.5 L485.98,223.92 L486.5,188.92 L487.02,199.3 L487.54,207.67 L488.06,200.2 L488.58,191 L489.1,202.24 L489.62,228.5 L490.15,241.21 L490.67,255.58 L491.19,231.01 L491.71,213.92 L492.23,209.34 L492.75,203.5 L493.27,188.66 L493.79,178.5 L494.31,195.13 L494.83,205.58 L495.35,223.22 L495.88,232.67 L496.4,241.5 L496.92,247.25 L497.44,230.08 L497.96,209.75 L498.48,214.38 L499,218.08 L499.52,225.22 L500.04,236.83 L500.56,215.18 L501.08,195.17 L501.6,209.36 L502.12,228.5 L502.65,235.65 L503.17,238.92 L503.69,216.07 L504.21,193.08 L504.73,208.49 L505.25,218.08 L505.77,219.77 L506.29,234.75 L506.81,224.61 L507.33,205.58 L507.85,208.02 L508.38,218.08 L508.9,230.04 L509.42,249.33 L509.94,227.51 L510.46,207.67 L510.98,212.14 L511.5,222.25 L512.02,208.08 L512.54,191 L513.06,201.67 L513.58,218.08 L514.1,202.32 L514.62,197.25 L515.15,205.52 L515.67,222.25 L516.19,224.64 L516.71,213.92 L517.23,227.68 L517.75,241 L518.27,221.62 L518.79,213.92 L519.31,220.21 L519.83,226.42 L520.35,205.1 L520.88,199.33 L521.4,235.36 L521.92,253.5 L522.44,212.02 L522.96,185.79 L523.48,211.62 L524,232.67 L524.52,214.55 L525.04,191 L525.56,197.29 L526.08,218.08 L526.6,210.21 L527.12,199.33 L527.65,227.24 L528.17,245.17 L528.69,226.67 L529.21,203.5 L529.73,192.83 L530.25,179.54 L530.77,198.35 L531.29,207.67 L532.33,226.42 L532.75,167.04" fill="none" stroke="#ff5252" stroke-width="0.82" stroke-linejoin="round"/>
<path d="M301.3,167 H532.9 V301.7" fill="none" stroke="#8c8c8c" stroke-width="1.1"/>
<path d="M301.3,167 V301.7" fill="none" stroke="#7a7a7a" stroke-width="1.3"/>
<path d="M301.3,301.7 H532.9" fill="none" stroke="#8a8a8a" stroke-width="1.1"/>
<path d="M301.3,301.2 v1.6 M312.88,301.2 v1.6 M324.46,301.2 v1.6 M336.04,301.2 v1.6 M347.62,301.2 v1.6 M359.2,301.2 v1.6 M370.78,301.2 v1.6 M382.36,301.2 v1.6 M393.94,301.2 v1.6 M405.52,301.2 v1.6 M417.1,301.2 v1.6 M428.68,301.2 v1.6 M440.26,301.2 v1.6 M451.84,301.2 v1.6 M463.42,301.2 v1.6 M475,301.2 v1.6 M486.58,301.2 v1.6 M498.16,301.2 v1.6 M509.74,301.2 v1.6 M521.32,301.2 v1.6 M532.9,301.2 v1.6" stroke="#555" stroke-width="0.8"/>
<path d="M301.9,301.7 h-1.6 M301.9,297.85 h-1.2 M301.9,294 h-1.2 M301.9,290.15 h-1.2 M301.9,286.31 h-1.2 M301.9,282.46 h-1.6 M301.9,278.61 h-1.2 M301.9,274.76 h-1.2 M301.9,270.91 h-1.2 M301.9,267.06 h-1.2 M301.9,263.21 h-1.6 M301.9,259.37 h-1.2 M301.9,255.52 h-1.2 M301.9,251.67 h-1.2 M301.9,247.82 h-1.2 M301.9,243.97 h-1.6 M301.9,240.12 h-1.2 M301.9,236.27 h-1.2 M301.9,232.43 h-1.2 M301.9,228.58 h-1.2 M301.9,224.73 h-1.6 M301.9,220.88 h-1.2 M301.9,217.03 h-1.2 M301.9,213.18 h-1.2 M301.9,209.33 h-1.2 M301.9,205.49 h-1.6 M301.9,201.64 h-1.2 M301.9,197.79 h-1.2 M301.9,193.94 h-1.2 M301.9,190.09 h-1.2 M301.9,186.24 h-1.6 M301.9,182.39 h-1.2 M301.9,178.55 h-1.2 M301.9,174.7 h-1.2 M301.9,170.85 h-1.2 M301.9,167 h-1.6" stroke="#333" stroke-width="0.9"/>
<text x="301.3" y="308.6" font-size="4.3" text-anchor="middle" font-weight="bold" fill="#2a2a2a" stroke="#2a2a2a" stroke-width="0.05">740</text>
<text x="312.88" y="308.6" font-size="4.3" text-anchor="middle" font-weight="bold" fill="#2a2a2a" stroke="#2a2a2a" stroke-width="0.05">738</text>
<text x="324.46" y="308.6" font-size="4.3" text-anchor="middle" font-weight="bold" fill="#2a2a2a" stroke="#2a2a2a" stroke-width="0.05">736</text>
<text x="336.04" y="308.6" font-size="4.3" text-anchor="middle" font-weight="bold" fill="#2a2a2a" stroke="#2a2a2a" stroke-width="0.05">734</text>
<text x="347.62" y="308.6" font-size="4.3" text-anchor="middle" font-weight="bold" fill="#2a2a2a" stroke="#2a2a2a" stroke-width="0.05">732</text>
<text x="359.2" y="308.6" font-size="4.3" text-anchor="middle" font-weight="bold" fill="#2a2a2a" stroke="#2a2a2a" stroke-width="0.05">730</text>
<text x="370.78" y="308.6" font-size="4.3" text-anchor="middle" font-weight="bold" fill="#2a2a2a" stroke="#2a2a2a" stroke-width="0.05">728</text>
<text x="382.36" y="308.6" font-size="4.3" text-anchor="middle" font-weight="bold" fill="#2a2a2a" stroke="#2a2a2a" stroke-width="0.05">726</text>
<text x="393.94" y="308.6" font-size="4.3" text-anchor="middle" font-weight="bold" fill="#2a2a2a" stroke="#2a2a2a" stroke-width="0.05">724</text>
<text x="405.52" y="308.6" font-size="4.3" text-anchor="middle" font-weight="bold" fill="#2a2a2a" stroke="#2a2a2a" stroke-width="0.05">722</text>
<text x="417.1" y="308.6" font-size="4.3" text-anchor="middle" font-weight="bold" fill="#2a2a2a" stroke="#2a2a2a" stroke-width="0.05">720</text>
<text x="428.68" y="308.6" font-size="4.3" text-anchor="middle" font-weight="bold" fill="#2a2a2a" stroke="#2a2a2a" stroke-width="0.05">718</text>
<text x="440.26" y="308.6" font-size="4.3" text-anchor="middle" font-weight="bold" fill="#2a2a2a" stroke="#2a2a2a" stroke-width="0.05">716</text>
<text x="451.84" y="308.6" font-size="4.3" text-anchor="middle" font-weight="bold" fill="#2a2a2a" stroke="#2a2a2a" stroke-width="0.05">714</text>
<text x="463.42" y="308.6" font-size="4.3" text-anchor="middle" font-weight="bold" fill="#2a2a2a" stroke="#2a2a2a" stroke-width="0.05">712</text>
<text x="475" y="308.6" font-size="4.3" text-anchor="middle" font-weight="bold" fill="#2a2a2a" stroke="#2a2a2a" stroke-width="0.05">710</text>
<text x="486.58" y="308.6" font-size="4.3" text-anchor="middle" font-weight="bold" fill="#2a2a2a" stroke="#2a2a2a" stroke-width="0.05">708</text>
<text x="498.16" y="308.6" font-size="4.3" text-anchor="middle" font-weight="bold" fill="#2a2a2a" stroke="#2a2a2a" stroke-width="0.05">706</text>
<text x="509.74" y="308.6" font-size="4.3" text-anchor="middle" font-weight="bold" fill="#2a2a2a" stroke="#2a2a2a" stroke-width="0.05">704</text>
<text x="521.32" y="308.6" font-size="4.3" text-anchor="middle" font-weight="bold" fill="#2a2a2a" stroke="#2a2a2a" stroke-width="0.05">702</text>
<text x="532.9" y="308.6" font-size="4.3" text-anchor="middle" font-weight="bold" fill="#2a2a2a" stroke="#2a2a2a" stroke-width="0.05">700</text>
<text x="297.5" y="303.1" font-size="4.3" text-anchor="end" font-weight="bold" fill="#2a2a2a" stroke="#2a2a2a" stroke-width="0.05">6600</text>
<text x="297.5" y="283.86" font-size="4.3" text-anchor="end" font-weight="bold" fill="#2a2a2a" stroke="#2a2a2a" stroke-width="0.05">6700</text>
<text x="297.5" y="264.61" font-size="4.3" text-anchor="end" font-weight="bold" fill="#2a2a2a" stroke="#2a2a2a" stroke-width="0.05">6800</text>
<text x="297.5" y="245.37" font-size="4.3" text-anchor="end" font-weight="bold" fill="#2a2a2a" stroke="#2a2a2a" stroke-width="0.05">6900</text>
<text x="297.5" y="226.13" font-size="4.3" text-anchor="end" font-weight="bold" fill="#2a2a2a" stroke="#2a2a2a" stroke-width="0.05">7000</text>
<text x="297.5" y="206.89" font-size="4.3" text-anchor="end" font-weight="bold" fill="#2a2a2a" stroke="#2a2a2a" stroke-width="0.05">7100</text>
<text x="297.5" y="187.64" font-size="4.3" text-anchor="end" font-weight="bold" fill="#2a2a2a" stroke="#2a2a2a" stroke-width="0.05">7200</text>
<text x="297.5" y="168.4" font-size="4.3" text-anchor="end" font-weight="bold" fill="#2a2a2a" stroke="#2a2a2a" stroke-width="0.05">7300</text>
<text x="418.4" y="315.65" font-size="4.6" text-anchor="middle" font-weight="bold" fill="#222" stroke="#222" stroke-width="0.15" textLength="39" lengthAdjust="spacingAndGlyphs">Binding Energy, eV</text>
<text transform="translate(285.8,234.35) rotate(-90)" font-size="4.2" text-anchor="middle" font-weight="bold" fill="#222" stroke="#222" stroke-width="0.15" textLength="25" lengthAdjust="spacingAndGlyphs">Intensity, CPS</text>
<text x="404.5" y="178" font-size="8.4" font-weight="bold" fill="#1010e0" stroke="#1010e0" stroke-width="0.25" textLength="23" lengthAdjust="spacingAndGlyphs">Fe 2p</text>
<text x="509" y="178.6" font-size="11.4" font-weight="bold" fill="#111" stroke="#111" stroke-width="0.35" textLength="14.6" lengthAdjust="spacingAndGlyphs">(d)</text>
<rect x="272" y="162.4" width="270.5" height="158.1" fill="none" stroke="#5e5e5e" stroke-width="1.5"/>
<line x1="34.9" y1="325.5" x2="34.9" y2="464" stroke="#f6f6f6" stroke-width="0.6"/>
<line x1="40.9" y1="325.5" x2="40.9" y2="464" stroke="#f6f6f6" stroke-width="0.6"/>
<line x1="46.91" y1="325.5" x2="46.91" y2="464" stroke="#eeeeee" stroke-width="0.8"/>
<line x1="52.91" y1="325.5" x2="52.91" y2="464" stroke="#f6f6f6" stroke-width="0.6"/>
<line x1="58.91" y1="325.5" x2="58.91" y2="464" stroke="#f6f6f6" stroke-width="0.6"/>
<line x1="64.91" y1="325.5" x2="64.91" y2="464" stroke="#f6f6f6" stroke-width="0.6"/>
<line x1="70.92" y1="325.5" x2="70.92" y2="464" stroke="#eeeeee" stroke-width="0.8"/>
<line x1="76.92" y1="325.5" x2="76.92" y2="464" stroke="#f6f6f6" stroke-width="0.6"/>
<line x1="82.92" y1="325.5" x2="82.92" y2="464" stroke="#f6f6f6" stroke-width="0.6"/>
<line x1="88.92" y1="325.5" x2="88.92" y2="464" stroke="#f6f6f6" stroke-width="0.6"/>
<line x1="94.93" y1="325.5" x2="94.93" y2="464" stroke="#eeeeee" stroke-width="0.8"/>
<line x1="100.93" y1="325.5" x2="100.93" y2="464" stroke="#f6f6f6" stroke-width="0.6"/>
<line x1="106.93" y1="325.5" x2="106.93" y2="464" stroke="#f6f6f6" stroke-width="0.6"/>
<line x1="112.93" y1="325.5" x2="112.93" y2="464" stroke="#f6f6f6" stroke-width="0.6"/>
<line x1="118.94" y1="325.5" x2="118.94" y2="464" stroke="#eeeeee" stroke-width="0.8"/>
<line x1="124.94" y1="325.5" x2="124.94" y2="464" stroke="#f6f6f6" stroke-width="0.6"/>
<line x1="130.94" y1="325.5" x2="130.94" y2="464" stroke="#f6f6f6" stroke-width="0.6"/>
<line x1="136.94" y1="325.5" x2="136.94" y2="464" stroke="#f6f6f6" stroke-width="0.6"/>
<line x1="142.95" y1="325.5" x2="142.95" y2="464" stroke="#eeeeee" stroke-width="0.8"/>
<line x1="148.95" y1="325.5" x2="148.95" y2="464" stroke="#f6f6f6" stroke-width="0.6"/>
<line x1="154.95" y1="325.5" x2="154.95" y2="464" stroke="#f6f6f6" stroke-width="0.6"/>
<line x1="160.96" y1="325.5" x2="160.96" y2="464" stroke="#f6f6f6" stroke-width="0.6"/>
<line x1="166.96" y1="325.5" x2="166.96" y2="464" stroke="#eeeeee" stroke-width="0.8"/>
<line x1="172.96" y1="325.5" x2="172.96" y2="464" stroke="#f6f6f6" stroke-width="0.6"/>
<line x1="178.96" y1="325.5" x2="178.96" y2="464" stroke="#f6f6f6" stroke-width="0.6"/>
<line x1="184.97" y1="325.5" x2="184.97" y2="464" stroke="#f6f6f6" stroke-width="0.6"/>
<line x1="190.97" y1="325.5" x2="190.97" y2="464" stroke="#eeeeee" stroke-width="0.8"/>
<line x1="196.97" y1="325.5" x2="196.97" y2="464" stroke="#f6f6f6" stroke-width="0.6"/>
<line x1="202.97" y1="325.5" x2="202.97" y2="464" stroke="#f6f6f6" stroke-width="0.6"/>
<line x1="208.98" y1="325.5" x2="208.98" y2="464" stroke="#f6f6f6" stroke-width="0.6"/>
<line x1="214.98" y1="325.5" x2="214.98" y2="464" stroke="#eeeeee" stroke-width="0.8"/>
<line x1="220.98" y1="325.5" x2="220.98" y2="464" stroke="#f6f6f6" stroke-width="0.6"/>
<line x1="226.98" y1="325.5" x2="226.98" y2="464" stroke="#f6f6f6" stroke-width="0.6"/>
<line x1="232.99" y1="325.5" x2="232.99" y2="464" stroke="#f6f6f6" stroke-width="0.6"/>
<line x1="238.99" y1="325.5" x2="238.99" y2="464" stroke="#eeeeee" stroke-width="0.8"/>
<line x1="244.99" y1="325.5" x2="244.99" y2="464" stroke="#f6f6f6" stroke-width="0.6"/>
<line x1="250.99" y1="325.5" x2="250.99" y2="464" stroke="#f6f6f6" stroke-width="0.6"/>
<line x1="257" y1="325.5" x2="257" y2="464" stroke="#f6f6f6" stroke-width="0.6"/>
<line x1="263" y1="325.5" x2="263" y2="464" stroke="#eeeeee" stroke-width="0.8"/>
<line x1="34.9" y1="464" x2="263" y2="464" stroke="#eeeeee" stroke-width="0.8"/>
<line x1="34.9" y1="458.46" x2="263" y2="458.46" stroke="#f6f6f6" stroke-width="0.6"/>
<line x1="34.9" y1="452.92" x2="263" y2="452.92" stroke="#f6f6f6" stroke-width="0.6"/>
<line x1="34.9" y1="447.38" x2="263" y2="447.38" stroke="#f6f6f6" stroke-width="0.6"/>
<line x1="34.9" y1="441.84" x2="263" y2="441.84" stroke="#f6f6f6" stroke-width="0.6"/>
<line x1="34.9" y1="436.3" x2="263" y2="436.3" stroke="#eeeeee" stroke-width="0.8"/>
<line x1="34.9" y1="430.76" x2="263" y2="430.76" stroke="#f6f6f6" stroke-width="0.6"/>
<line x1="34.9" y1="425.22" x2="263" y2="425.22" stroke="#f6f6f6" stroke-width="0.6"/>
<line x1="34.9" y1="419.68" x2="263" y2="419.68" stroke="#f6f6f6" stroke-width="0.6"/>
<line x1="34.9" y1="414.14" x2="263" y2="414.14" stroke="#f6f6f6" stroke-width="0.6"/>
<line x1="34.9" y1="408.6" x2="263" y2="408.6" stroke="#eeeeee" stroke-width="0.8"/>
<line x1="34.9" y1="403.06" x2="263" y2="403.06" stroke="#f6f6f6" stroke-width="0.6"/>
<line x1="34.9" y1="397.52" x2="263" y2="397.52" stroke="#f6f6f6" stroke-width="0.6"/>
<line x1="34.9" y1="391.98" x2="263" y2="391.98" stroke="#f6f6f6" stroke-width="0.6"/>
<line x1="34.9" y1="386.44" x2="263" y2="386.44" stroke="#f6f6f6" stroke-width="0.6"/>
<line x1="34.9" y1="380.9" x2="263" y2="380.9" stroke="#eeeeee" stroke-width="0.8"/>
<line x1="34.9" y1="375.36" x2="263" y2="375.36" stroke="#f6f6f6" stroke-width="0.6"/>
<line x1="34.9" y1="369.82" x2="263" y2="369.82" stroke="#f6f6f6" stroke-width="0.6"/>
<line x1="34.9" y1="364.28" x2="263" y2="364.28" stroke="#f6f6f6" stroke-width="0.6"/>
<line x1="34.9" y1="358.74" x2="263" y2="358.74" stroke="#f6f6f6" stroke-width="0.6"/>
<line x1="34.9" y1="353.2" x2="263" y2="353.2" stroke="#eeeeee" stroke-width="0.8"/>
<line x1="34.9" y1="347.66" x2="263" y2="347.66" stroke="#f6f6f6" stroke-width="0.6"/>
<line x1="34.9" y1="342.12" x2="263" y2="342.12" stroke="#f6f6f6" stroke-width="0.6"/>
<line x1="34.9" y1="336.58" x2="263" y2="336.58" stroke="#f6f6f6" stroke-width="0.6"/>
<line x1="34.9" y1="331.04" x2="263" y2="331.04" stroke="#f6f6f6" stroke-width="0.6"/>
<line x1="34.9" y1="325.5" x2="263" y2="325.5" stroke="#eeeeee" stroke-width="0.8"/>
<path d="M34.92,386.02 L35.84,413.62 L36.76,397.06 L37.68,395.22 L38.6,400.74 L39.52,393.38 L40.44,391.54 L41.36,404.42 L42.28,413.62 L43.2,415.46 L44.12,413.62 L45.04,406.26 L45.96,409.94 L46.88,420.99 L47.8,405.34 L48.72,409.94 L49.65,404.42 L50.57,397.06 L51.49,408.1 L52.41,404.42 L53.33,403.5 L54.25,402.58 L55.17,409.94 L56.09,422.83 L57.01,406.26 L57.93,393.38 L58.85,393.38 L59.77,400.74 L60.69,409.94 L61.61,398.9 L62.53,401.66 L63.45,398.9 L64.37,397.06 L65.29,415.46 L66.21,349.2 L67.13,371.29 L68.05,377.73 L68.97,404.42 L69.89,424.67 L70.81,393.38 L71.73,387.86 L72.65,389.7 L73.2,406.26 L74.13,380.49 L74.86,400.74 L75.6,406.26 L76.33,382.33 L77.25,386.02 L78.17,406.26 L79.09,395.22 L80.02,417.31 L80.94,430.19 L81.86,378.65 L82.78,381.41 L83.7,385.09 L84.62,386.02 L85.54,395.22 L86.46,416.39 L87.38,404.42 L88.3,376.81 L89.22,395.22 L90.14,380.49 L91.06,409.94 L91.98,406.26 L92.92,426.51 L94.21,404.42 L95.31,405.34 L96.42,415.46 L97.52,389.7 L98.63,388.78 L99.73,373.13 L100.83,387.86 L102.12,367.61 L103.41,374.97 L104.52,409.94 L105.62,421.91 L106.72,404.42 L107.83,395.22 L108.93,393.38 L110.04,413.62 L111.14,408.1 L112.25,409.94 L113.35,413.62 L114.46,363.93 L115.56,419.15 L116.66,402.58 L117.77,408.1 L118.87,417.31 L119.98,400.74 L121.08,378.65 L122.19,404.42 L123.29,373.13 L124.39,386.02 L125.5,423.75 L126.6,384.17 L127.71,364.85 L128.81,371.29 L129.92,397.06 L131.02,395.22 L132.13,393.38 L133.23,404.42 L134.33,417.31 L135.44,378.65 L136.54,380.49 L137.28,424.67 L138.38,386.02 L139.49,365.77 L140.59,376.81 L141.7,404.42 L142.8,398.9 L143.91,389.7 L145.01,386.02 L146.11,409.94 L147.22,395.22 L148.32,393.38 L149.43,391.54 L150,391.54 L151.1,402.58 L152.21,415.46 L153.31,417.31 L154.42,422.83 L155.52,406.26 L156.63,408.1 L157.73,408.1 L158.83,406.26 L159.94,397.06 L161.04,406.26 L162.15,419.15 L163.25,413.62 L164.36,435.71 L165.46,426.51 L166.57,409.94 L167.67,409.94 L168.41,393.38 L169.51,413.62 L170.61,441.23 L171.72,409.94 L172.82,444.91 L173.93,413.62 L175.03,424.67 L176.14,409.94 L176.87,388.78 L177.98,432.03 L179.08,402.58 L180.19,409.94 L181.29,386.94 L182.39,411.78 L183.13,450.44 L184.24,422.83 L184.97,456.88 L186.08,422.83 L187.18,413.62 L188.28,412.7 L189.39,420.99 L190.13,434.79 L191.23,417.31 L192.33,406.26 L193.44,413.62 L194.54,413.62 L195.65,420.99 L196.75,409.94 L197.49,391.54 L198.59,380.49 L199.33,441.23 L200.43,395.22 L201.54,397.06 L202.64,408.1 L203.75,419.15 L204.85,417.31 L206,408.1 L206.92,424.67 L207.84,428.35 L208.76,409.94 L209.68,408.1 L210.6,426.51 L211.52,443.99 L212.44,437.55 L213.36,439.39 L214.28,437.55 L215.2,439.39 L216.12,444.91 L217.04,424.67 L217.96,424.67 L218.88,417.31 L219.8,398.9 L220.72,417.31 L221.65,432.03 L222.57,437.55 L223.49,446.76 L224.41,435.71 L225.33,428.35 L226.25,417.31 L227.17,411.78 L228.09,404.42 L229.01,420.99 L229.93,426.51 L230.85,432.03 L231.77,433.87 L232.69,441.23 L233.61,413.62 L234.53,386.02 L235.45,413.62 L236.37,409.94 L237.29,417.31 L238.21,420.99 L239.13,422.83 L240.05,424.67 L240.97,422.83 L241.89,426.51 L242.81,417.31 L243.73,424.67 L244.65,406.26 L245.57,417.31 L246.49,422.83 L247.41,420.99 L248.33,422.83 L249.25,421.91 L250.17,424.67 L251.09,430.19 L252.02,428.35 L252.94,430.19 L253.86,428.35 L254.78,432.03 L255.7,437.55 L256.62,424.67 L257.54,435.71 L258.46,432.03 L259.38,433.87 L260.3,430.19 L261.22,430.19 L262.51,420.99" fill="none" stroke="#ff5252" stroke-width="0.82" stroke-linejoin="round"/>
<path d="M34.9,325.5 H263 V464" fill="none" stroke="#8c8c8c" stroke-width="1.1"/>
<path d="M34.9,325.5 V464" fill="none" stroke="#7a7a7a" stroke-width="1.3"/>
<path d="M34.9,464 H263" fill="none" stroke="#8a8a8a" stroke-width="1.1"/>
<path d="M34.9,463.5 v1.1 M40.9,463.5 v1.1 M46.91,463.5 v1.6 M52.91,463.5 v1.1 M58.91,463.5 v1.1 M64.91,463.5 v1.1 M70.92,463.5 v1.6 M76.92,463.5 v1.1 M82.92,463.5 v1.1 M88.92,463.5 v1.1 M94.93,463.5 v1.6 M100.93,463.5 v1.1 M106.93,463.5 v1.1 M112.93,463.5 v1.1 M118.94,463.5 v1.6 M124.94,463.5 v1.1 M130.94,463.5 v1.1 M136.94,463.5 v1.1 M142.95,463.5 v1.6 M148.95,463.5 v1.1 M154.95,463.5 v1.1 M160.96,463.5 v1.1 M166.96,463.5 v1.6 M172.96,463.5 v1.1 M178.96,463.5 v1.1 M184.97,463.5 v1.1 M190.97,463.5 v1.6 M196.97,463.5 v1.1 M202.97,463.5 v1.1 M208.98,463.5 v1.1 M214.98,463.5 v1.6 M220.98,463.5 v1.1 M226.98,463.5 v1.1 M232.99,463.5 v1.1 M238.99,463.5 v1.6 M244.99,463.5 v1.1 M250.99,463.5 v1.1 M257,463.5 v1.1 M263,463.5 v1.6" stroke="#555" stroke-width="0.8"/>
<path d="M35.5,464 h-1.6 M35.5,458.46 h-1.2 M35.5,452.92 h-1.2 M35.5,447.38 h-1.2 M35.5,441.84 h-1.2 M35.5,436.3 h-1.6 M35.5,430.76 h-1.2 M35.5,425.22 h-1.2 M35.5,419.68 h-1.2 M35.5,414.14 h-1.2 M35.5,408.6 h-1.6 M35.5,403.06 h-1.2 M35.5,397.52 h-1.2 M35.5,391.98 h-1.2 M35.5,386.44 h-1.2 M35.5,380.9 h-1.6 M35.5,375.36 h-1.2 M35.5,369.82 h-1.2 M35.5,364.28 h-1.2 M35.5,358.74 h-1.2 M35.5,353.2 h-1.6 M35.5,347.66 h-1.2 M35.5,342.12 h-1.2 M35.5,336.58 h-1.2 M35.5,331.04 h-1.2 M35.5,325.5 h-1.6" stroke="#333" stroke-width="0.9"/>
<text x="46.91" y="470.9" font-size="4.3" text-anchor="middle" font-weight="bold" fill="#2a2a2a" stroke="#2a2a2a" stroke-width="0.05">52</text>
<text x="70.92" y="470.9" font-size="4.3" text-anchor="middle" font-weight="bold" fill="#2a2a2a" stroke="#2a2a2a" stroke-width="0.05">50</text>
<text x="94.93" y="470.9" font-size="4.3" text-anchor="middle" font-weight="bold" fill="#2a2a2a" stroke="#2a2a2a" stroke-width="0.05">48</text>
<text x="118.94" y="470.9" font-size="4.3" text-anchor="middle" font-weight="bold" fill="#2a2a2a" stroke="#2a2a2a" stroke-width="0.05">46</text>
<text x="142.95" y="470.9" font-size="4.3" text-anchor="middle" font-weight="bold" fill="#2a2a2a" stroke="#2a2a2a" stroke-width="0.05">44</text>
<text x="166.96" y="470.9" font-size="4.3" text-anchor="middle" font-weight="bold" fill="#2a2a2a" stroke="#2a2a2a" stroke-width="0.05">42</text>
<text x="190.97" y="470.9" font-size="4.3" text-anchor="middle" font-weight="bold" fill="#2a2a2a" stroke="#2a2a2a" stroke-width="0.05">40</text>
<text x="214.98" y="470.9" font-size="4.3" text-anchor="middle" font-weight="bold" fill="#2a2a2a" stroke="#2a2a2a" stroke-width="0.05">38</text>
<text x="238.99" y="470.9" font-size="4.3" text-anchor="middle" font-weight="bold" fill="#2a2a2a" stroke="#2a2a2a" stroke-width="0.05">36</text>
<text x="263" y="470.9" font-size="4.3" text-anchor="middle" font-weight="bold" fill="#2a2a2a" stroke="#2a2a2a" stroke-width="0.05">34</text>
<text x="31.1" y="465.4" font-size="4.3" text-anchor="end" font-weight="bold" fill="#2a2a2a" stroke="#2a2a2a" stroke-width="0.05">350</text>
<text x="31.1" y="437.7" font-size="4.3" text-anchor="end" font-weight="bold" fill="#2a2a2a" stroke="#2a2a2a" stroke-width="0.05">400</text>
<text x="31.1" y="410" font-size="4.3" text-anchor="end" font-weight="bold" fill="#2a2a2a" stroke="#2a2a2a" stroke-width="0.05">450</text>
<text x="31.1" y="382.3" font-size="4.3" text-anchor="end" font-weight="bold" fill="#2a2a2a" stroke="#2a2a2a" stroke-width="0.05">500</text>
<text x="31.1" y="354.6" font-size="4.3" text-anchor="end" font-weight="bold" fill="#2a2a2a" stroke="#2a2a2a" stroke-width="0.05">550</text>
<text x="31.1" y="326.9" font-size="4.3" text-anchor="end" font-weight="bold" fill="#2a2a2a" stroke="#2a2a2a" stroke-width="0.05">600</text>
<text x="150.25" y="478.05" font-size="4.6" text-anchor="middle" font-weight="bold" fill="#222" stroke="#222" stroke-width="0.15" textLength="39" lengthAdjust="spacingAndGlyphs">Binding Energy, eV</text>
<text transform="translate(21.5,394.75) rotate(-90)" font-size="4.2" text-anchor="middle" font-weight="bold" fill="#222" stroke="#222" stroke-width="0.15" textLength="25" lengthAdjust="spacingAndGlyphs">Intensity, CPS</text>
<text x="128.2" y="336.7" font-size="8.4" font-weight="bold" fill="#1010e0" stroke="#1010e0" stroke-width="0.25" textLength="23" lengthAdjust="spacingAndGlyphs">As 3d</text>
<text x="245" y="338.1" font-size="11.4" font-weight="bold" fill="#111" stroke="#111" stroke-width="0.35" textLength="14" lengthAdjust="spacingAndGlyphs">(e)</text>
<rect x="5.8" y="321" width="266.05" height="161.3" fill="none" stroke="#5e5e5e" stroke-width="1.5"/>
<line x1="301.6" y1="325.3" x2="301.6" y2="464" stroke="#eeeeee" stroke-width="0.8"/>
<line x1="307.86" y1="325.3" x2="307.86" y2="464" stroke="#f6f6f6" stroke-width="0.6"/>
<line x1="314.11" y1="325.3" x2="314.11" y2="464" stroke="#f6f6f6" stroke-width="0.6"/>
<line x1="320.37" y1="325.3" x2="320.37" y2="464" stroke="#f6f6f6" stroke-width="0.6"/>
<line x1="326.62" y1="325.3" x2="326.62" y2="464" stroke="#eeeeee" stroke-width="0.8"/>
<line x1="332.88" y1="325.3" x2="332.88" y2="464" stroke="#f6f6f6" stroke-width="0.6"/>
<line x1="339.13" y1="325.3" x2="339.13" y2="464" stroke="#f6f6f6" stroke-width="0.6"/>
<line x1="345.39" y1="325.3" x2="345.39" y2="464" stroke="#f6f6f6" stroke-width="0.6"/>
<line x1="351.64" y1="325.3" x2="351.64" y2="464" stroke="#eeeeee" stroke-width="0.8"/>
<line x1="357.9" y1="325.3" x2="357.9" y2="464" stroke="#f6f6f6" stroke-width="0.6"/>
<line x1="364.16" y1="325.3" x2="364.16" y2="464" stroke="#f6f6f6" stroke-width="0.6"/>
<line x1="370.41" y1="325.3" x2="370.41" y2="464" stroke="#f6f6f6" stroke-width="0.6"/>
<line x1="376.67" y1="325.3" x2="376.67" y2="464" stroke="#eeeeee" stroke-width="0.8"/>
<line x1="382.92" y1="325.3" x2="382.92" y2="464" stroke="#f6f6f6" stroke-width="0.6"/>
<line x1="389.18" y1="325.3" x2="389.18" y2="464" stroke="#f6f6f6" stroke-width="0.6"/>
<line x1="395.43" y1="325.3" x2="395.43" y2="464" stroke="#f6f6f6" stroke-width="0.6"/>
<line x1="401.69" y1="325.3" x2="401.69" y2="464" stroke="#eeeeee" stroke-width="0.8"/>
<line x1="407.94" y1="325.3" x2="407.94" y2="464" stroke="#f6f6f6" stroke-width="0.6"/>
<line x1="414.2" y1="325.3" x2="414.2" y2="464" stroke="#f6f6f6" stroke-width="0.6"/>
<line x1="420.46" y1="325.3" x2="420.46" y2="464" stroke="#f6f6f6" stroke-width="0.6"/>
<line x1="426.71" y1="325.3" x2="426.71" y2="464" stroke="#eeeeee" stroke-width="0.8"/>
<line x1="432.97" y1="325.3" x2="432.97" y2="464" stroke="#f6f6f6" stroke-width="0.6"/>
<line x1="439.22" y1="325.3" x2="439.22" y2="464" stroke="#f6f6f6" stroke-width="0.6"/>
<line x1="445.48" y1="325.3" x2="445.48" y2="464" stroke="#f6f6f6" stroke-width="0.6"/>
<line x1="451.73" y1="325.3" x2="451.73" y2="464" stroke="#eeeeee" stroke-width="0.8"/>
<line x1="457.99" y1="325.3" x2="457.99" y2="464" stroke="#f6f6f6" stroke-width="0.6"/>
<line x1="464.24" y1="325.3" x2="464.24" y2="464" stroke="#f6f6f6" stroke-width="0.6"/>
<line x1="470.5" y1="325.3" x2="470.5" y2="464" stroke="#f6f6f6" stroke-width="0.6"/>
<line x1="476.76" y1="325.3" x2="476.76" y2="464" stroke="#eeeeee" stroke-width="0.8"/>
<line x1="483.01" y1="325.3" x2="483.01" y2="464" stroke="#f6f6f6" stroke-width="0.6"/>
<line x1="489.27" y1="325.3" x2="489.27" y2="464" stroke="#f6f6f6" stroke-width="0.6"/>
<line x1="495.52" y1="325.3" x2="495.52" y2="464" stroke="#f6f6f6" stroke-width="0.6"/>
<line x1="501.78" y1="325.3" x2="501.78" y2="464" stroke="#eeeeee" stroke-width="0.8"/>
<line x1="508.03" y1="325.3" x2="508.03" y2="464" stroke="#f6f6f6" stroke-width="0.6"/>
<line x1="514.29" y1="325.3" x2="514.29" y2="464" stroke="#f6f6f6" stroke-width="0.6"/>
<line x1="520.54" y1="325.3" x2="520.54" y2="464" stroke="#f6f6f6" stroke-width="0.6"/>
<line x1="526.8" y1="325.3" x2="526.8" y2="464" stroke="#eeeeee" stroke-width="0.8"/>
<line x1="301.6" y1="464" x2="526.8" y2="464" stroke="#eeeeee" stroke-width="0.8"/>
<line x1="301.6" y1="460.53" x2="526.8" y2="460.53" stroke="#f6f6f6" stroke-width="0.6"/>
<line x1="301.6" y1="457.06" x2="526.8" y2="457.06" stroke="#f6f6f6" stroke-width="0.6"/>
<line x1="301.6" y1="453.6" x2="526.8" y2="453.6" stroke="#f6f6f6" stroke-width="0.6"/>
<line x1="301.6" y1="450.13" x2="526.8" y2="450.13" stroke="#f6f6f6" stroke-width="0.6"/>
<line x1="301.6" y1="446.66" x2="526.8" y2="446.66" stroke="#eeeeee" stroke-width="0.8"/>
<line x1="301.6" y1="443.19" x2="526.8" y2="443.19" stroke="#f6f6f6" stroke-width="0.6"/>
<line x1="301.6" y1="439.73" x2="526.8" y2="439.73" stroke="#f6f6f6" stroke-width="0.6"/>
<line x1="301.6" y1="436.26" x2="526.8" y2="436.26" stroke="#f6f6f6" stroke-width="0.6"/>
<line x1="301.6" y1="432.79" x2="526.8" y2="432.79" stroke="#f6f6f6" stroke-width="0.6"/>
<line x1="301.6" y1="429.32" x2="526.8" y2="429.32" stroke="#eeeeee" stroke-width="0.8"/>
<line x1="301.6" y1="425.86" x2="526.8" y2="425.86" stroke="#f6f6f6" stroke-width="0.6"/>
<line x1="301.6" y1="422.39" x2="526.8" y2="422.39" stroke="#f6f6f6" stroke-width="0.6"/>
<line x1="301.6" y1="418.92" x2="526.8" y2="418.92" stroke="#f6f6f6" stroke-width="0.6"/>
<line x1="301.6" y1="415.45" x2="526.8" y2="415.45" stroke="#f6f6f6" stroke-width="0.6"/>
<line x1="301.6" y1="411.99" x2="526.8" y2="411.99" stroke="#eeeeee" stroke-width="0.8"/>
<line x1="301.6" y1="408.52" x2="526.8" y2="408.52" stroke="#f6f6f6" stroke-width="0.6"/>
<line x1="301.6" y1="405.05" x2="526.8" y2="405.05" stroke="#f6f6f6" stroke-width="0.6"/>
<line x1="301.6" y1="401.58" x2="526.8" y2="401.58" stroke="#f6f6f6" stroke-width="0.6"/>
<line x1="301.6" y1="398.12" x2="526.8" y2="398.12" stroke="#f6f6f6" stroke-width="0.6"/>
<line x1="301.6" y1="394.65" x2="526.8" y2="394.65" stroke="#eeeeee" stroke-width="0.8"/>
<line x1="301.6" y1="391.18" x2="526.8" y2="391.18" stroke="#f6f6f6" stroke-width="0.6"/>
<line x1="301.6" y1="387.72" x2="526.8" y2="387.72" stroke="#f6f6f6" stroke-width="0.6"/>
<line x1="301.6" y1="384.25" x2="526.8" y2="384.25" stroke="#f6f6f6" stroke-width="0.6"/>
<line x1="301.6" y1="380.78" x2="526.8" y2="380.78" stroke="#f6f6f6" stroke-width="0.6"/>
<line x1="301.6" y1="377.31" x2="526.8" y2="377.31" stroke="#eeeeee" stroke-width="0.8"/>
<line x1="301.6" y1="373.85" x2="526.8" y2="373.85" stroke="#f6f6f6" stroke-width="0.6"/>
<line x1="301.6" y1="370.38" x2="526.8" y2="370.38" stroke="#f6f6f6" stroke-width="0.6"/>
<line x1="301.6" y1="366.91" x2="526.8" y2="366.91" stroke="#f6f6f6" stroke-width="0.6"/>
<line x1="301.6" y1="363.44" x2="526.8" y2="363.44" stroke="#f6f6f6" stroke-width="0.6"/>
<line x1="301.6" y1="359.98" x2="526.8" y2="359.98" stroke="#eeeeee" stroke-width="0.8"/>
<line x1="301.6" y1="356.51" x2="526.8" y2="356.51" stroke="#f6f6f6" stroke-width="0.6"/>
<line x1="301.6" y1="353.04" x2="526.8" y2="353.04" stroke="#f6f6f6" stroke-width="0.6"/>
<line x1="301.6" y1="349.57" x2="526.8" y2="349.57" stroke="#f6f6f6" stroke-width="0.6"/>
<line x1="301.6" y1="346.11" x2="526.8" y2="346.11" stroke="#f6f6f6" stroke-width="0.6"/>
<line x1="301.6" y1="342.64" x2="526.8" y2="342.64" stroke="#eeeeee" stroke-width="0.8"/>
<line x1="301.6" y1="339.17" x2="526.8" y2="339.17" stroke="#f6f6f6" stroke-width="0.6"/>
<line x1="301.6" y1="335.7" x2="526.8" y2="335.7" stroke="#f6f6f6" stroke-width="0.6"/>
<line x1="301.6" y1="332.24" x2="526.8" y2="332.24" stroke="#f6f6f6" stroke-width="0.6"/>
<line x1="301.6" y1="328.77" x2="526.8" y2="328.77" stroke="#f6f6f6" stroke-width="0.6"/>
<line x1="301.6" y1="325.3" x2="526.8" y2="325.3" stroke="#eeeeee" stroke-width="0.8"/>
<path d="M302.07,440 L302.76,417.93 L303.72,415.17 L304.83,419.31 L305.93,398.62 L307.17,404.14 L308.28,409.66 L309.66,434.48 L311.03,396.55 L312.14,416.55 L313.38,431.03 L314.9,408.97 L316.14,408.28 L317.52,391.72 L318.9,400 L320,410.34 L321.38,407.59 L322.48,405.52 L323.72,413.79 L324.55,398.62 L325.52,424.83 L326.48,446.21 L327.59,422.07 L328.55,407.59 L329.66,427.59 L330.62,423.45 L331.72,420 L332.69,423.45 L333.52,431.72 L334.48,421.38 L335.59,422.07 L336.55,424.83 L337.52,430.34 L338.62,436.55 L339.72,412.41 L340.97,368.28 L342.07,401.38 L343.45,417.93 L344.55,402.76 L345.93,420 L347.17,395.86 L348.55,384.14 L349.66,398.62 L350.76,442.76 L351.86,424.83 L353.1,419.31 L354.48,440 L355.86,428.97 L357.24,420.69 L358,398.62 L359.1,412.41 L360.48,395.17 L361.45,424.83 L362.41,441.38 L363.52,431.72 L364.62,419.31 L366,405.52 L367.38,417.93 L368.34,430.34 L369.45,440 L370.83,401.38 L372.21,424.83 L373.45,420.69 L374.83,419.31 L375.93,422.07 L377.03,419.31 L378.28,431.72 L379.66,422.07 L380.76,423.45 L382.14,426.21 L383.24,437.24 L384.62,411.03 L386,434.48 L387.24,388.97 L388.34,383.45 L389.45,387.59 L390.55,411.03 L391.93,437.24 L393.17,411.03 L394.28,393.1 L395.52,420.69 L396.62,405.52 L397.59,387.59 L398.69,401.38 L399.66,399.31 L400.48,428.97 L401.17,441.38 L402.14,426.21 L403.24,396.55 L404.34,409.66 L405.59,412.41 L406.97,415.17 L408.34,401.38 L409.59,391.03 L411.1,409.66 L412.21,437.24 L413.45,411.03 L414.55,431.72 L416,423.45 L417.1,419.31 L418.34,433.1 L419.72,417.93 L421.1,408.28 L422.21,400.69 L423.31,440 L424.69,415.17 L425.93,401.38 L427.31,442.76 L428.41,419.31 L429.52,389.66 L430.9,425.52 L432.14,404.14 L433.24,395.86 L434.34,387.59 L435.31,384.14 L436.41,391.72 L437.79,424.83 L438.48,433.1 L439.72,424.83 L440.83,405.52 L442.21,366.9 L443.31,400 L444.41,411.03 L445.52,429.66 L446.62,397.24 L447.45,379.31 L448.55,431.72 L449.79,412.41 L451.17,393.79 L452.28,412.41 L453.24,411.03 L454.34,382.07 L455.45,398.62 L456.28,405.52 L457.38,404.14 L458.48,435.17 L459.72,413.1 L461.1,420.69 L462.21,409.66 L463.59,408.28 L464.55,394.48 L465.66,398.62 L467.03,391.03 L468.41,412.41 L469.79,395.86 L471.1,393.1 L472.34,404.14 L473.45,416.55 L474.55,382.07 L475.79,405.52 L476.9,409.66 L478.28,419.31 L479.38,408.28 L480.76,407.59 L482.14,432.41 L483.52,395.86 L484.9,383.45 L486.14,382.76 L487.24,423.45 L488.34,382.76 L489.72,398.62 L490.97,435.17 L492.34,415.17 L493.72,394.48 L494.83,379.31 L495.93,364.14 L497.17,387.59 L498.28,399.31 L499.38,373.1 L500.34,391.72 L501.17,411.03 L502.14,390.34 L503.24,388.97 L504.48,384.14 L505.59,393.1 L506.55,399.31 L507.52,387.59 L508.34,382.76 L509.72,442.76 L510.97,405.52 L512.21,382.76 L513.31,388.97 L514.41,384.83 L515.52,390.34 L516.62,390.34 L518,395.86 L519.38,415.17 L520.62,388.97 L522.14,406.9 L523.52,396.55 L524.76,405.52 L526.28,413.79" fill="none" stroke="#ff5252" stroke-width="0.82" stroke-linejoin="round"/>
<path d="M301.6,325.3 H526.8 V464" fill="none" stroke="#8c8c8c" stroke-width="1.1"/>
<path d="M301.6,325.3 V464" fill="none" stroke="#7a7a7a" stroke-width="1.3"/>
<path d="M301.6,464 H526.8" fill="none" stroke="#8a8a8a" stroke-width="1.1"/>
<path d="M301.6,463.5 v1.6 M307.86,463.5 v1.1 M314.11,463.5 v1.1 M320.37,463.5 v1.1 M326.62,463.5 v1.6 M332.88,463.5 v1.1 M339.13,463.5 v1.1 M345.39,463.5 v1.1 M351.64,463.5 v1.6 M357.9,463.5 v1.1 M364.16,463.5 v1.1 M370.41,463.5 v1.1 M376.67,463.5 v1.6 M382.92,463.5 v1.1 M389.18,463.5 v1.1 M395.43,463.5 v1.1 M401.69,463.5 v1.6 M407.94,463.5 v1.1 M414.2,463.5 v1.1 M420.46,463.5 v1.1 M426.71,463.5 v1.6 M432.97,463.5 v1.1 M439.22,463.5 v1.1 M445.48,463.5 v1.1 M451.73,463.5 v1.6 M457.99,463.5 v1.1 M464.24,463.5 v1.1 M470.5,463.5 v1.1 M476.76,463.5 v1.6 M483.01,463.5 v1.1 M489.27,463.5 v1.1 M495.52,463.5 v1.1 M501.78,463.5 v1.6 M508.03,463.5 v1.1 M514.29,463.5 v1.1 M520.54,463.5 v1.1 M526.8,463.5 v1.6" stroke="#555" stroke-width="0.8"/>
<path d="M302.2,464 h-1.6 M302.2,460.53 h-1.2 M302.2,457.06 h-1.2 M302.2,453.6 h-1.2 M302.2,450.13 h-1.2 M302.2,446.66 h-1.6 M302.2,443.19 h-1.2 M302.2,439.73 h-1.2 M302.2,436.26 h-1.2 M302.2,432.79 h-1.2 M302.2,429.32 h-1.6 M302.2,425.86 h-1.2 M302.2,422.39 h-1.2 M302.2,418.92 h-1.2 M302.2,415.45 h-1.2 M302.2,411.99 h-1.6 M302.2,408.52 h-1.2 M302.2,405.05 h-1.2 M302.2,401.58 h-1.2 M302.2,398.12 h-1.2 M302.2,394.65 h-1.6 M302.2,391.18 h-1.2 M302.2,387.72 h-1.2 M302.2,384.25 h-1.2 M302.2,380.78 h-1.2 M302.2,377.31 h-1.6 M302.2,373.85 h-1.2 M302.2,370.38 h-1.2 M302.2,366.91 h-1.2 M302.2,363.44 h-1.2 M302.2,359.98 h-1.6 M302.2,356.51 h-1.2 M302.2,353.04 h-1.2 M302.2,349.57 h-1.2 M302.2,346.11 h-1.2 M302.2,342.64 h-1.6 M302.2,339.17 h-1.2 M302.2,335.7 h-1.2 M302.2,332.24 h-1.2 M302.2,328.77 h-1.2 M302.2,325.3 h-1.6" stroke="#333" stroke-width="0.9"/>
<text x="301.6" y="470.9" font-size="4.3" text-anchor="middle" font-weight="bold" fill="#2a2a2a" stroke="#2a2a2a" stroke-width="0.05">420</text>
<text x="326.62" y="470.9" font-size="4.3" text-anchor="middle" font-weight="bold" fill="#2a2a2a" stroke="#2a2a2a" stroke-width="0.05">418</text>
<text x="351.64" y="470.9" font-size="4.3" text-anchor="middle" font-weight="bold" fill="#2a2a2a" stroke="#2a2a2a" stroke-width="0.05">416</text>
<text x="376.67" y="470.9" font-size="4.3" text-anchor="middle" font-weight="bold" fill="#2a2a2a" stroke="#2a2a2a" stroke-width="0.05">414</text>
<text x="401.69" y="470.9" font-size="4.3" text-anchor="middle" font-weight="bold" fill="#2a2a2a" stroke="#2a2a2a" stroke-width="0.05">412</text>
<text x="426.71" y="470.9" font-size="4.3" text-anchor="middle" font-weight="bold" fill="#2a2a2a" stroke="#2a2a2a" stroke-width="0.05">410</text>
<text x="451.73" y="470.9" font-size="4.3" text-anchor="middle" font-weight="bold" fill="#2a2a2a" stroke="#2a2a2a" stroke-width="0.05">408</text>
<text x="476.76" y="470.9" font-size="4.3" text-anchor="middle" font-weight="bold" fill="#2a2a2a" stroke="#2a2a2a" stroke-width="0.05">406</text>
<text x="501.78" y="470.9" font-size="4.3" text-anchor="middle" font-weight="bold" fill="#2a2a2a" stroke="#2a2a2a" stroke-width="0.05">404</text>
<text x="526.8" y="470.9" font-size="4.3" text-anchor="middle" font-weight="bold" fill="#2a2a2a" stroke="#2a2a2a" stroke-width="0.05">402</text>
<text x="297.8" y="465.4" font-size="4.3" text-anchor="end" font-weight="bold" fill="#2a2a2a" stroke="#2a2a2a" stroke-width="0.05">5400</text>
<text x="297.8" y="448.06" font-size="4.3" text-anchor="end" font-weight="bold" fill="#2a2a2a" stroke="#2a2a2a" stroke-width="0.05">5500</text>
<text x="297.8" y="430.72" font-size="4.3" text-anchor="end" font-weight="bold" fill="#2a2a2a" stroke="#2a2a2a" stroke-width="0.05">5600</text>
<text x="297.8" y="413.39" font-size="4.3" text-anchor="end" font-weight="bold" fill="#2a2a2a" stroke="#2a2a2a" stroke-width="0.05">5700</text>
<text x="297.8" y="396.05" font-size="4.3" text-anchor="end" font-weight="bold" fill="#2a2a2a" stroke="#2a2a2a" stroke-width="0.05">5800</text>
<text x="297.8" y="378.71" font-size="4.3" text-anchor="end" font-weight="bold" fill="#2a2a2a" stroke="#2a2a2a" stroke-width="0.05">5900</text>
<text x="297.8" y="361.38" font-size="4.3" text-anchor="end" font-weight="bold" fill="#2a2a2a" stroke="#2a2a2a" stroke-width="0.05">6000</text>
<text x="297.8" y="344.04" font-size="4.3" text-anchor="end" font-weight="bold" fill="#2a2a2a" stroke="#2a2a2a" stroke-width="0.05">6100</text>
<text x="297.8" y="326.7" font-size="4.3" text-anchor="end" font-weight="bold" fill="#2a2a2a" stroke="#2a2a2a" stroke-width="0.05">6200</text>
<text x="415.2" y="478.55" font-size="4.6" text-anchor="middle" font-weight="bold" fill="#222" stroke="#222" stroke-width="0.15" textLength="39" lengthAdjust="spacingAndGlyphs">Binding Energy, eV</text>
<text transform="translate(286.4,394.65) rotate(-90)" font-size="4.2" text-anchor="middle" font-weight="bold" fill="#222" stroke="#222" stroke-width="0.15" textLength="25" lengthAdjust="spacingAndGlyphs">Intensity, CPS</text>
<text x="402.3" y="336.1" font-size="8.4" font-weight="bold" fill="#1010e0" stroke="#1010e0" stroke-width="0.25" textLength="23.3" lengthAdjust="spacingAndGlyphs">Cd 3d</text>
<text x="508.8" y="337.9" font-size="11.4" font-weight="bold" fill="#111" stroke="#111" stroke-width="0.35" textLength="12.1" lengthAdjust="spacingAndGlyphs">(f)</text>
<rect x="273.3" y="321.2" width="262.7" height="161.2" fill="none" stroke="#5e5e5e" stroke-width="1.5"/>
<line x1="176.76" y1="488.2" x2="176.76" y2="627.8" stroke="#f6f6f6" stroke-width="0.6"/>
<line x1="182.81" y1="488.2" x2="182.81" y2="627.8" stroke="#f6f6f6" stroke-width="0.6"/>
<line x1="188.85" y1="488.2" x2="188.85" y2="627.8" stroke="#eeeeee" stroke-width="0.8"/>
<line x1="194.9" y1="488.2" x2="194.9" y2="627.8" stroke="#f6f6f6" stroke-width="0.6"/>
<line x1="200.95" y1="488.2" x2="200.95" y2="627.8" stroke="#f6f6f6" stroke-width="0.6"/>
<line x1="206.99" y1="488.2" x2="206.99" y2="627.8" stroke="#f6f6f6" stroke-width="0.6"/>
<line x1="213.04" y1="488.2" x2="213.04" y2="627.8" stroke="#eeeeee" stroke-width="0.8"/>
<line x1="219.08" y1="488.2" x2="219.08" y2="627.8" stroke="#f6f6f6" stroke-width="0.6"/>
<line x1="225.13" y1="488.2" x2="225.13" y2="627.8" stroke="#f6f6f6" stroke-width="0.6"/>
<line x1="231.17" y1="488.2" x2="231.17" y2="627.8" stroke="#f6f6f6" stroke-width="0.6"/>
<line x1="237.22" y1="488.2" x2="237.22" y2="627.8" stroke="#eeeeee" stroke-width="0.8"/>
<line x1="243.27" y1="488.2" x2="243.27" y2="627.8" stroke="#f6f6f6" stroke-width="0.6"/>
<line x1="249.31" y1="488.2" x2="249.31" y2="627.8" stroke="#f6f6f6" stroke-width="0.6"/>
<line x1="255.36" y1="488.2" x2="255.36" y2="627.8" stroke="#f6f6f6" stroke-width="0.6"/>
<line x1="261.4" y1="488.2" x2="261.4" y2="627.8" stroke="#eeeeee" stroke-width="0.8"/>
<line x1="267.45" y1="488.2" x2="267.45" y2="627.8" stroke="#f6f6f6" stroke-width="0.6"/>
<line x1="273.49" y1="488.2" x2="273.49" y2="627.8" stroke="#f6f6f6" stroke-width="0.6"/>
<line x1="279.54" y1="488.2" x2="279.54" y2="627.8" stroke="#f6f6f6" stroke-width="0.6"/>
<line x1="285.59" y1="488.2" x2="285.59" y2="627.8" stroke="#eeeeee" stroke-width="0.8"/>
<line x1="291.63" y1="488.2" x2="291.63" y2="627.8" stroke="#f6f6f6" stroke-width="0.6"/>
<line x1="297.68" y1="488.2" x2="297.68" y2="627.8" stroke="#f6f6f6" stroke-width="0.6"/>
<line x1="303.72" y1="488.2" x2="303.72" y2="627.8" stroke="#f6f6f6" stroke-width="0.6"/>
<line x1="309.77" y1="488.2" x2="309.77" y2="627.8" stroke="#eeeeee" stroke-width="0.8"/>
<line x1="315.81" y1="488.2" x2="315.81" y2="627.8" stroke="#f6f6f6" stroke-width="0.6"/>
<line x1="321.86" y1="488.2" x2="321.86" y2="627.8" stroke="#f6f6f6" stroke-width="0.6"/>
<line x1="327.91" y1="488.2" x2="327.91" y2="627.8" stroke="#f6f6f6" stroke-width="0.6"/>
<line x1="333.95" y1="488.2" x2="333.95" y2="627.8" stroke="#eeeeee" stroke-width="0.8"/>
<line x1="340" y1="488.2" x2="340" y2="627.8" stroke="#f6f6f6" stroke-width="0.6"/>
<line x1="346.04" y1="488.2" x2="346.04" y2="627.8" stroke="#f6f6f6" stroke-width="0.6"/>
<line x1="352.09" y1="488.2" x2="352.09" y2="627.8" stroke="#f6f6f6" stroke-width="0.6"/>
<line x1="358.13" y1="488.2" x2="358.13" y2="627.8" stroke="#eeeeee" stroke-width="0.8"/>
<line x1="364.18" y1="488.2" x2="364.18" y2="627.8" stroke="#f6f6f6" stroke-width="0.6"/>
<line x1="370.23" y1="488.2" x2="370.23" y2="627.8" stroke="#f6f6f6" stroke-width="0.6"/>
<line x1="376.27" y1="488.2" x2="376.27" y2="627.8" stroke="#f6f6f6" stroke-width="0.6"/>
<line x1="382.32" y1="488.2" x2="382.32" y2="627.8" stroke="#eeeeee" stroke-width="0.8"/>
<line x1="388.36" y1="488.2" x2="388.36" y2="627.8" stroke="#f6f6f6" stroke-width="0.6"/>
<line x1="394.41" y1="488.2" x2="394.41" y2="627.8" stroke="#f6f6f6" stroke-width="0.6"/>
<line x1="400.45" y1="488.2" x2="400.45" y2="627.8" stroke="#f6f6f6" stroke-width="0.6"/>
<line x1="406.5" y1="488.2" x2="406.5" y2="627.8" stroke="#eeeeee" stroke-width="0.8"/>
<line x1="176.4" y1="627.8" x2="406.5" y2="627.8" stroke="#eeeeee" stroke-width="0.8"/>
<line x1="176.4" y1="624.7" x2="406.5" y2="624.7" stroke="#f6f6f6" stroke-width="0.6"/>
<line x1="176.4" y1="621.6" x2="406.5" y2="621.6" stroke="#f6f6f6" stroke-width="0.6"/>
<line x1="176.4" y1="618.49" x2="406.5" y2="618.49" stroke="#f6f6f6" stroke-width="0.6"/>
<line x1="176.4" y1="615.39" x2="406.5" y2="615.39" stroke="#f6f6f6" stroke-width="0.6"/>
<line x1="176.4" y1="612.29" x2="406.5" y2="612.29" stroke="#eeeeee" stroke-width="0.8"/>
<line x1="176.4" y1="609.19" x2="406.5" y2="609.19" stroke="#f6f6f6" stroke-width="0.6"/>
<line x1="176.4" y1="606.08" x2="406.5" y2="606.08" stroke="#f6f6f6" stroke-width="0.6"/>
<line x1="176.4" y1="602.98" x2="406.5" y2="602.98" stroke="#f6f6f6" stroke-width="0.6"/>
<line x1="176.4" y1="599.88" x2="406.5" y2="599.88" stroke="#f6f6f6" stroke-width="0.6"/>
<line x1="176.4" y1="596.78" x2="406.5" y2="596.78" stroke="#eeeeee" stroke-width="0.8"/>
<line x1="176.4" y1="593.68" x2="406.5" y2="593.68" stroke="#f6f6f6" stroke-width="0.6"/>
<line x1="176.4" y1="590.57" x2="406.5" y2="590.57" stroke="#f6f6f6" stroke-width="0.6"/>
<line x1="176.4" y1="587.47" x2="406.5" y2="587.47" stroke="#f6f6f6" stroke-width="0.6"/>
<line x1="176.4" y1="584.37" x2="406.5" y2="584.37" stroke="#f6f6f6" stroke-width="0.6"/>
<line x1="176.4" y1="581.27" x2="406.5" y2="581.27" stroke="#eeeeee" stroke-width="0.8"/>
<line x1="176.4" y1="578.16" x2="406.5" y2="578.16" stroke="#f6f6f6" stroke-width="0.6"/>
<line x1="176.4" y1="575.06" x2="406.5" y2="575.06" stroke="#f6f6f6" stroke-width="0.6"/>
<line x1="176.4" y1="571.96" x2="406.5" y2="571.96" stroke="#f6f6f6" stroke-width="0.6"/>
<line x1="176.4" y1="568.86" x2="406.5" y2="568.86" stroke="#f6f6f6" stroke-width="0.6"/>
<line x1="176.4" y1="565.76" x2="406.5" y2="565.76" stroke="#eeeeee" stroke-width="0.8"/>
<line x1="176.4" y1="562.65" x2="406.5" y2="562.65" stroke="#f6f6f6" stroke-width="0.6"/>
<line x1="176.4" y1="559.55" x2="406.5" y2="559.55" stroke="#f6f6f6" stroke-width="0.6"/>
<line x1="176.4" y1="556.45" x2="406.5" y2="556.45" stroke="#f6f6f6" stroke-width="0.6"/>
<line x1="176.4" y1="553.35" x2="406.5" y2="553.35" stroke="#f6f6f6" stroke-width="0.6"/>
<line x1="176.4" y1="550.24" x2="406.5" y2="550.24" stroke="#eeeeee" stroke-width="0.8"/>
<line x1="176.4" y1="547.14" x2="406.5" y2="547.14" stroke="#f6f6f6" stroke-width="0.6"/>
<line x1="176.4" y1="544.04" x2="406.5" y2="544.04" stroke="#f6f6f6" stroke-width="0.6"/>
<line x1="176.4" y1="540.94" x2="406.5" y2="540.94" stroke="#f6f6f6" stroke-width="0.6"/>
<line x1="176.4" y1="537.84" x2="406.5" y2="537.84" stroke="#f6f6f6" stroke-width="0.6"/>
<line x1="176.4" y1="534.73" x2="406.5" y2="534.73" stroke="#eeeeee" stroke-width="0.8"/>
<line x1="176.4" y1="531.63" x2="406.5" y2="531.63" stroke="#f6f6f6" stroke-width="0.6"/>
<line x1="176.4" y1="528.53" x2="406.5" y2="528.53" stroke="#f6f6f6" stroke-width="0.6"/>
<line x1="176.4" y1="525.43" x2="406.5" y2="525.43" stroke="#f6f6f6" stroke-width="0.6"/>
<line x1="176.4" y1="522.32" x2="406.5" y2="522.32" stroke="#f6f6f6" stroke-width="0.6"/>
<line x1="176.4" y1="519.22" x2="406.5" y2="519.22" stroke="#eeeeee" stroke-width="0.8"/>
<line x1="176.4" y1="516.12" x2="406.5" y2="516.12" stroke="#f6f6f6" stroke-width="0.6"/>
<line x1="176.4" y1="513.02" x2="406.5" y2="513.02" stroke="#f6f6f6" stroke-width="0.6"/>
<line x1="176.4" y1="509.92" x2="406.5" y2="509.92" stroke="#f6f6f6" stroke-width="0.6"/>
<line x1="176.4" y1="506.81" x2="406.5" y2="506.81" stroke="#f6f6f6" stroke-width="0.6"/>
<line x1="176.4" y1="503.71" x2="406.5" y2="503.71" stroke="#eeeeee" stroke-width="0.8"/>
<line x1="176.4" y1="500.61" x2="406.5" y2="500.61" stroke="#f6f6f6" stroke-width="0.6"/>
<line x1="176.4" y1="497.51" x2="406.5" y2="497.51" stroke="#f6f6f6" stroke-width="0.6"/>
<line x1="176.4" y1="494.4" x2="406.5" y2="494.4" stroke="#f6f6f6" stroke-width="0.6"/>
<line x1="176.4" y1="491.3" x2="406.5" y2="491.3" stroke="#f6f6f6" stroke-width="0.6"/>
<line x1="176.4" y1="488.2" x2="406.5" y2="488.2" stroke="#eeeeee" stroke-width="0.8"/>
<path d="M176.47,508.98 L177.1,511.08 L178.15,504.78 L178.78,495.34 L179.62,511.08 L180.45,516.32 L181.29,519.47 L182.34,524.71 L183.39,532.05 L184.44,533.1 L185.49,538.35 L186.54,548.83 L187.59,557.23 L188.64,559.32 L189.26,551.98 L190.1,555.13 L190.73,566.67 L191.78,564.57 L192.83,570.86 L193.88,571.91 L194.93,578.2 L195.98,586.59 L197.03,591.84 L198.08,597.08 L199.12,593.94 L200.17,597.08 L201.22,592.89 L201.85,603.38 L202.69,594.99 L203.74,597.08 L204.79,599.18 L205.84,597.08 L206.89,593.94 L207.93,592.89 L208.56,591.84 L209.61,598.13 L210.66,597.08 L211.71,602.33 L212.76,599.18 L213.81,597.08 L214.86,599.18 L215.91,597.08 L216.96,603.38 L218,598.13 L219.05,598.13 L220.1,605.47 L221.15,610.72 L222.2,601.28 L223.25,598.13 L224.3,597.08 L225.35,605.47 L226.4,600.23 L227.44,602.33 L228.49,605.47 L229.54,603.38 L230.59,607.57 L231.64,604.64 L233.27,610.37 L234.91,606.28 L236.55,603 L238.18,601.37 L239.49,599.73 L240.64,601.37 L241.78,599.73 L243.09,604.64 L244.4,603 L245.88,607.91 L247.18,604.64 L248,596.46 L248.82,606.28 L249.97,603 L251.28,602.18 L252.59,606.28 L253.73,606.28 L254.55,610.37 L255.86,613.64 L257,607.91 L258.15,604.64 L259.46,606.28 L260.77,603 L261.91,611.19 L263.22,607.91 L264.7,599.73 L266.01,606.28 L267.32,609.55 L268.46,611.19 L269.61,614.46 L270.92,607.91 L272.23,606.28 L273.37,604.64 L274.52,604.64 L275.83,606.28 L277.14,605.46 L278.28,603.82 L279.1,606.28 L280.41,604.64 L281.55,603 L282.7,606.28 L284.01,600.55 L284.83,601.37 L285.65,610.37 L286.46,603 L287.61,604.64 L288.92,603.82 L290.23,609.55 L291.37,611.19 L292.52,611.19 L293.83,609.55 L295.14,606.28 L296.28,604.64 L297.43,607.91 L298.74,609.55 L300.05,612 L301.19,612.82 L302.34,609.55 L303.65,607.91 L304.96,603 L306.1,601.37 L307.25,603.82 L308.56,607.91 L309.87,607.91 L311.01,614.46 L312.16,609.55 L313.47,604.64 L314.78,612.82 L315.92,614.46 L318,607.82 L319.31,610.28 L320.45,606.19 L321.6,602.91 L322.91,606.19 L324.22,610.28 L325.36,609.46 L326.51,608.64 L327.82,610.28 L329.13,607 L330.27,604.55 L331.42,605.37 L332.73,606.19 L334.04,608.64 L335.18,604.55 L336.33,608.64 L337.64,606.19 L338.95,607 L340.09,608.64 L341.24,606.19 L342.55,604.55 L343.86,602.91 L345,605.37 L346.15,606.19 L347.46,609.46 L348.77,607.82 L349.91,606.19 L351.06,602.91 L352.37,606.19 L353.68,602.09 L354.66,610.28 L355.64,606.19 L356.79,604.55 L357.93,602.91 L359.24,607 L360.55,598 L361.54,606.19 L362.52,602.91 L363.5,607.82 L364.64,615.19 L365.46,607.82 L366.77,607 L367.92,610.28 L369.06,602.91 L370.05,600.46 L371.19,604.55 L372.34,608.64 L373.32,614.37 L374.46,608.64 L375.28,606.19 L376.59,599.64 L377.74,604.55 L378.88,605.37 L380.19,602.91 L381.34,599.64 L382.48,604.55 L383.47,607.82 L384.78,608.64 L385.92,605.37 L387.07,604.55 L388.38,607 L389.52,609.46 L390.83,608.64 L391.98,607.82 L393.29,604.55 L394.6,601.28 L395.74,607.82 L396.89,607.82 L398.2,599.64 L399.34,607 L400.65,606.19 L401.8,601.28 L402.78,599.64 L403.76,596.37 L404.74,593.09 L405.56,589.82" fill="none" stroke="#ff5252" stroke-width="0.82" stroke-linejoin="round"/>
<path d="M176.4,488.2 H406.5 V627.8" fill="none" stroke="#8c8c8c" stroke-width="1.1"/>
<path d="M176.4,488.2 V627.8" fill="none" stroke="#7a7a7a" stroke-width="1.3"/>
<path d="M176.4,627.8 H406.5" fill="none" stroke="#8a8a8a" stroke-width="1.1"/>
<path d="M176.76,627.3 v1.1 M182.81,627.3 v1.1 M188.85,627.3 v1.6 M194.9,627.3 v1.1 M200.95,627.3 v1.1 M206.99,627.3 v1.1 M213.04,627.3 v1.6 M219.08,627.3 v1.1 M225.13,627.3 v1.1 M231.17,627.3 v1.1 M237.22,627.3 v1.6 M243.27,627.3 v1.1 M249.31,627.3 v1.1 M255.36,627.3 v1.1 M261.4,627.3 v1.6 M267.45,627.3 v1.1 M273.49,627.3 v1.1 M279.54,627.3 v1.1 M285.59,627.3 v1.6 M291.63,627.3 v1.1 M297.68,627.3 v1.1 M303.72,627.3 v1.1 M309.77,627.3 v1.6 M315.81,627.3 v1.1 M321.86,627.3 v1.1 M327.91,627.3 v1.1 M333.95,627.3 v1.6 M340,627.3 v1.1 M346.04,627.3 v1.1 M352.09,627.3 v1.1 M358.13,627.3 v1.6 M364.18,627.3 v1.1 M370.23,627.3 v1.1 M376.27,627.3 v1.1 M382.32,627.3 v1.6 M388.36,627.3 v1.1 M394.41,627.3 v1.1 M400.45,627.3 v1.1 M406.5,627.3 v1.6" stroke="#555" stroke-width="0.8"/>
<path d="M177,627.8 h-1.6 M177,624.7 h-1.2 M177,621.6 h-1.2 M177,618.49 h-1.2 M177,615.39 h-1.2 M177,612.29 h-1.6 M177,609.19 h-1.2 M177,606.08 h-1.2 M177,602.98 h-1.2 M177,599.88 h-1.2 M177,596.78 h-1.6 M177,593.68 h-1.2 M177,590.57 h-1.2 M177,587.47 h-1.2 M177,584.37 h-1.2 M177,581.27 h-1.6 M177,578.16 h-1.2 M177,575.06 h-1.2 M177,571.96 h-1.2 M177,568.86 h-1.2 M177,565.76 h-1.6 M177,562.65 h-1.2 M177,559.55 h-1.2 M177,556.45 h-1.2 M177,553.35 h-1.2 M177,550.24 h-1.6 M177,547.14 h-1.2 M177,544.04 h-1.2 M177,540.94 h-1.2 M177,537.84 h-1.2 M177,534.73 h-1.6 M177,531.63 h-1.2 M177,528.53 h-1.2 M177,525.43 h-1.2 M177,522.32 h-1.2 M177,519.22 h-1.6 M177,516.12 h-1.2 M177,513.02 h-1.2 M177,509.92 h-1.2 M177,506.81 h-1.2 M177,503.71 h-1.6 M177,500.61 h-1.2 M177,497.51 h-1.2 M177,494.4 h-1.2 M177,491.3 h-1.2 M177,488.2 h-1.6" stroke="#333" stroke-width="0.9"/>
<text x="188.85" y="634.7" font-size="4.3" text-anchor="middle" font-weight="bold" fill="#2a2a2a" stroke="#2a2a2a" stroke-width="0.05">152</text>
<text x="213.04" y="634.7" font-size="4.3" text-anchor="middle" font-weight="bold" fill="#2a2a2a" stroke="#2a2a2a" stroke-width="0.05">150</text>
<text x="237.22" y="634.7" font-size="4.3" text-anchor="middle" font-weight="bold" fill="#2a2a2a" stroke="#2a2a2a" stroke-width="0.05">148</text>
<text x="261.4" y="634.7" font-size="4.3" text-anchor="middle" font-weight="bold" fill="#2a2a2a" stroke="#2a2a2a" stroke-width="0.05">146</text>
<text x="285.59" y="634.7" font-size="4.3" text-anchor="middle" font-weight="bold" fill="#2a2a2a" stroke="#2a2a2a" stroke-width="0.05">144</text>
<text x="309.77" y="634.7" font-size="4.3" text-anchor="middle" font-weight="bold" fill="#2a2a2a" stroke="#2a2a2a" stroke-width="0.05">142</text>
<text x="333.95" y="634.7" font-size="4.3" text-anchor="middle" font-weight="bold" fill="#2a2a2a" stroke="#2a2a2a" stroke-width="0.05">140</text>
<text x="358.13" y="634.7" font-size="4.3" text-anchor="middle" font-weight="bold" fill="#2a2a2a" stroke="#2a2a2a" stroke-width="0.05">138</text>
<text x="382.32" y="634.7" font-size="4.3" text-anchor="middle" font-weight="bold" fill="#2a2a2a" stroke="#2a2a2a" stroke-width="0.05">136</text>
<text x="406.5" y="634.7" font-size="4.3" text-anchor="middle" font-weight="bold" fill="#2a2a2a" stroke="#2a2a2a" stroke-width="0.05">134</text>
<text x="172.6" y="629.2" font-size="4.3" text-anchor="end" font-weight="bold" fill="#2a2a2a" stroke="#2a2a2a" stroke-width="0.05">300</text>
<text x="172.6" y="613.69" font-size="4.3" text-anchor="end" font-weight="bold" fill="#2a2a2a" stroke="#2a2a2a" stroke-width="0.05">400</text>
<text x="172.6" y="598.18" font-size="4.3" text-anchor="end" font-weight="bold" fill="#2a2a2a" stroke="#2a2a2a" stroke-width="0.05">500</text>
<text x="172.6" y="582.67" font-size="4.3" text-anchor="end" font-weight="bold" fill="#2a2a2a" stroke="#2a2a2a" stroke-width="0.05">600</text>
<text x="172.6" y="567.16" font-size="4.3" text-anchor="end" font-weight="bold" fill="#2a2a2a" stroke="#2a2a2a" stroke-width="0.05">700</text>
<text x="172.6" y="551.64" font-size="4.3" text-anchor="end" font-weight="bold" fill="#2a2a2a" stroke="#2a2a2a" stroke-width="0.05">800</text>
<text x="172.6" y="536.13" font-size="4.3" text-anchor="end" font-weight="bold" fill="#2a2a2a" stroke="#2a2a2a" stroke-width="0.05">900</text>
<text x="172.6" y="520.62" font-size="4.3" text-anchor="end" font-weight="bold" fill="#2a2a2a" stroke="#2a2a2a" stroke-width="0.05">1000</text>
<text x="172.6" y="505.11" font-size="4.3" text-anchor="end" font-weight="bold" fill="#2a2a2a" stroke="#2a2a2a" stroke-width="0.05">1100</text>
<text x="172.6" y="489.6" font-size="4.3" text-anchor="end" font-weight="bold" fill="#2a2a2a" stroke="#2a2a2a" stroke-width="0.05">1200</text>
<text x="292.65" y="642.15" font-size="4.6" text-anchor="middle" font-weight="bold" fill="#222" stroke="#222" stroke-width="0.15" textLength="39" lengthAdjust="spacingAndGlyphs">Binding Energy, eV</text>
<text transform="translate(160.9,558) rotate(-90)" font-size="4.2" text-anchor="middle" font-weight="bold" fill="#222" stroke="#222" stroke-width="0.15" textLength="25" lengthAdjust="spacingAndGlyphs">Intensity, CPS</text>
<text x="265.8" y="497.3" font-size="8.4" font-weight="bold" fill="#1010e0" stroke="#1010e0" stroke-width="0.25" textLength="21.9" lengthAdjust="spacingAndGlyphs">Pb 4f</text>
<text x="383.8" y="498.9" font-size="11.4" font-weight="bold" fill="#111" stroke="#111" stroke-width="0.35" textLength="14.5" lengthAdjust="spacingAndGlyphs">(g)</text>
<rect x="146.9" y="483.3" width="268.6" height="162.7" fill="none" stroke="#5e5e5e" stroke-width="1.5"/>
</svg>
</body></html>
